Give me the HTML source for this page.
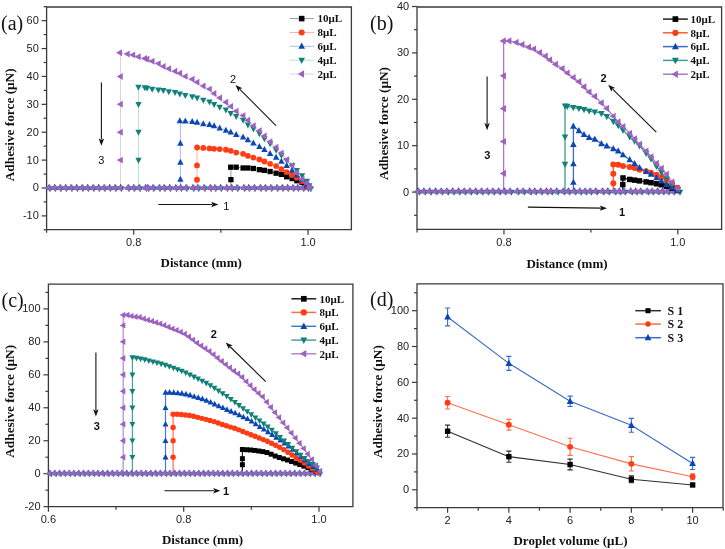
<!DOCTYPE html>
<html><head><meta charset="utf-8"><style>
html,body{margin:0;padding:0;background:#fff;width:725px;height:549px;overflow:hidden}
svg{display:block;filter:blur(0.45px)}
</style></head><body>
<svg width="725" height="549" viewBox="0 0 725 549">
<rect width="725" height="549" fill="#fff"/>
<path d="M46.6 7.0H351.4V229.7H46.6Z" fill="none" stroke="#3a3a3a" stroke-width="1.3"/>
<path d="M41.6 215.89H46.6" stroke="#3a3a3a" stroke-width="1.2"/>
<text x="38.80" y="219.29" font-family="Liberation Sans" font-size="11" font-weight="normal" text-anchor="end" fill="#222" >-10</text>
<path d="M41.6 188.00H46.6" stroke="#3a3a3a" stroke-width="1.2"/>
<text x="38.80" y="191.40" font-family="Liberation Sans" font-size="11" font-weight="normal" text-anchor="end" fill="#222" >0</text>
<path d="M41.6 160.11H46.6" stroke="#3a3a3a" stroke-width="1.2"/>
<text x="38.80" y="163.51" font-family="Liberation Sans" font-size="11" font-weight="normal" text-anchor="end" fill="#222" >10</text>
<path d="M41.6 132.22H46.6" stroke="#3a3a3a" stroke-width="1.2"/>
<text x="38.80" y="135.62" font-family="Liberation Sans" font-size="11" font-weight="normal" text-anchor="end" fill="#222" >20</text>
<path d="M41.6 104.33H46.6" stroke="#3a3a3a" stroke-width="1.2"/>
<text x="38.80" y="107.73" font-family="Liberation Sans" font-size="11" font-weight="normal" text-anchor="end" fill="#222" >30</text>
<path d="M41.6 76.44H46.6" stroke="#3a3a3a" stroke-width="1.2"/>
<text x="38.80" y="79.84" font-family="Liberation Sans" font-size="11" font-weight="normal" text-anchor="end" fill="#222" >40</text>
<path d="M41.6 48.55H46.6" stroke="#3a3a3a" stroke-width="1.2"/>
<text x="38.80" y="51.95" font-family="Liberation Sans" font-size="11" font-weight="normal" text-anchor="end" fill="#222" >50</text>
<path d="M41.6 20.66H46.6" stroke="#3a3a3a" stroke-width="1.2"/>
<text x="38.80" y="24.06" font-family="Liberation Sans" font-size="11" font-weight="normal" text-anchor="end" fill="#222" >60</text>
<path d="M43.6 229.84H46.6" stroke="#3a3a3a" stroke-width="1.2"/>
<path d="M43.6 201.94H46.6" stroke="#3a3a3a" stroke-width="1.2"/>
<path d="M43.6 174.06H46.6" stroke="#3a3a3a" stroke-width="1.2"/>
<path d="M43.6 146.16H46.6" stroke="#3a3a3a" stroke-width="1.2"/>
<path d="M43.6 118.27H46.6" stroke="#3a3a3a" stroke-width="1.2"/>
<path d="M43.6 90.38H46.6" stroke="#3a3a3a" stroke-width="1.2"/>
<path d="M43.6 62.49H46.6" stroke="#3a3a3a" stroke-width="1.2"/>
<path d="M43.6 34.60H46.6" stroke="#3a3a3a" stroke-width="1.2"/>
<path d="M43.6 6.72H46.6" stroke="#3a3a3a" stroke-width="1.2"/>
<path d="M133.75 229.7V234.7" stroke="#3a3a3a" stroke-width="1.2"/>
<text x="133.75" y="246.00" font-family="Liberation Sans" font-size="11" font-weight="normal" text-anchor="middle" fill="#222" >0.8</text>
<path d="M308.05 229.7V234.7" stroke="#3a3a3a" stroke-width="1.2"/>
<text x="308.05" y="246.00" font-family="Liberation Sans" font-size="11" font-weight="normal" text-anchor="middle" fill="#222" >1.0</text>
<path d="M46.60 229.7V232.7" stroke="#3a3a3a" stroke-width="1.2"/>
<path d="M220.90 229.7V232.7" stroke="#3a3a3a" stroke-width="1.2"/>
<path d="M47.10 188.00H307.50" fill="none" stroke="#9a9a9a" stroke-width="1.0"/>
<path d="M230.90 188.00V167.20L236.40 167.20L243.20 168.00L248.00 168.00L253.00 168.40L259.00 169.60L264.20 170.30L270.10 171.50L276.10 173.20L281.40 174.40L286.70 176.80L292.10 178.60L297.40 181.00L302.70 182.70L307.50 186.00" fill="none" stroke="#9a9a9a" stroke-width="1.0" stroke-linejoin="round"/>
<path d="M47.10 188.00H307.50" fill="none" stroke="#ffb4a4" stroke-width="1.0"/>
<path d="M197.00 188.00V147.50L203.40 147.90L209.30 148.40L214.40 148.80L219.90 149.10L225.70 149.70L230.80 150.80L236.40 152.60L243.20 153.80L248.00 155.90L253.00 157.40L259.30 159.40L264.20 161.40L270.10 163.80L276.10 166.10L281.40 169.10L286.70 172.10L292.10 175.00L297.40 178.00L302.10 181.00L307.50 186.00" fill="none" stroke="#ffb4a4" stroke-width="1.0" stroke-linejoin="round"/>
<path d="M47.10 188.00H308.50" fill="none" stroke="#a8bce6" stroke-width="1.0"/>
<path d="M180.40 188.00V120.90L186.00 121.20L192.20 121.70L197.30 122.40L203.40 123.90L209.30 124.60L214.40 126.00L219.90 128.20L225.70 130.20L230.80 132.20L236.40 134.80L243.20 137.20L248.00 139.90L253.20 142.90L259.50 146.60L264.20 149.50L270.10 153.70L276.10 157.30L281.40 161.40L286.70 165.50L292.10 170.30L297.40 175.60L302.70 180.40L308.50 187.00" fill="none" stroke="#a8bce6" stroke-width="1.0" stroke-linejoin="round"/>
<path d="M47.10 188.00H310.00" fill="none" stroke="#bcdcd8" stroke-width="1.0"/>
<path d="M138.50 188.00V87.10L146.00 87.80L152.20 89.10L158.40 89.80L163.30 90.50L168.80 91.60L175.70 92.60L180.50 94.00L185.30 95.30L192.20 96.70L197.80 98.10L203.30 100.20L210.20 102.20L214.10 104.30L219.70 107.10L225.90 109.80L230.70 113.30L236.20 116.40L243.10 120.20L247.20 124.30L252.80 128.40L259.00 133.30L263.80 138.10L269.30 142.90L276.50 150.50L284.40 158.40L290.90 164.40L296.80 170.30L303.30 176.80L308.10 182.70L310.00 187.50" fill="none" stroke="#bcdcd8" stroke-width="1.0" stroke-linejoin="round"/>
<path d="M47.10 188.00H309.50" fill="none" stroke="#e0cdef" stroke-width="1.0"/>
<path d="M120.50 188.00V52.70L127.40 54.00L132.90 54.90L138.40 56.70L144.70 58.40L152.20 61.30L158.40 63.60L163.30 66.40L168.80 68.70L175.00 71.20L179.80 73.30L185.30 76.40L192.20 79.20L197.10 82.20L203.30 86.00L209.50 89.10L214.10 93.50L219.70 97.90L225.90 102.20L230.70 106.40L236.20 111.20L243.10 115.60L247.90 120.20L253.40 125.70L259.60 130.80L264.30 135.90L270.10 141.70L276.10 147.20L281.40 153.10L286.70 159.60L292.10 165.50L296.80 172.70L302.10 179.20L306.90 183.30L309.50 187.50" fill="none" stroke="#e0cdef" stroke-width="1.0" stroke-linejoin="round"/>
<path d="M49.10 183.81L52.25 189.79L45.95 189.79Z" fill="#0b47b4"/><path d="M54.60 183.81L57.75 189.79L51.45 189.79Z" fill="#0b47b4"/><path d="M60.10 183.81L63.25 189.79L56.95 189.79Z" fill="#0b47b4"/><path d="M65.60 183.81L68.75 189.79L62.45 189.79Z" fill="#0b47b4"/><path d="M71.10 183.81L74.25 189.79L67.95 189.79Z" fill="#0b47b4"/><path d="M76.60 183.81L79.75 189.79L73.45 189.79Z" fill="#0b47b4"/><path d="M82.10 183.81L85.25 189.79L78.95 189.79Z" fill="#0b47b4"/><path d="M87.60 183.81L90.75 189.79L84.45 189.79Z" fill="#0b47b4"/><path d="M93.10 183.81L96.25 189.79L89.95 189.79Z" fill="#0b47b4"/><path d="M98.60 183.81L101.75 189.79L95.45 189.79Z" fill="#0b47b4"/><path d="M104.10 183.81L107.25 189.79L100.95 189.79Z" fill="#0b47b4"/><path d="M109.60 183.81L112.75 189.79L106.45 189.79Z" fill="#0b47b4"/><path d="M115.10 183.81L118.25 189.79L111.95 189.79Z" fill="#0b47b4"/><path d="M120.60 183.81L123.75 189.79L117.45 189.79Z" fill="#0b47b4"/><path d="M128.20 183.81L131.35 189.79L125.05 189.79Z" fill="#0b47b4"/><path d="M133.70 183.81L136.85 189.79L130.55 189.79Z" fill="#0b47b4"/><path d="M139.20 183.81L142.35 189.79L136.05 189.79Z" fill="#0b47b4"/><path d="M145.60 183.81L148.75 189.79L142.45 189.79Z" fill="#0b47b4"/><path d="M147.90 183.81L151.05 189.79L144.75 189.79Z" fill="#0b47b4"/><path d="M153.00 183.81L156.15 189.79L149.85 189.79Z" fill="#0b47b4"/><path d="M159.20 183.81L162.35 189.79L156.05 189.79Z" fill="#0b47b4"/><path d="M164.10 183.81L167.25 189.79L160.95 189.79Z" fill="#0b47b4"/><path d="M169.60 183.81L172.75 189.79L166.45 189.79Z" fill="#0b47b4"/><path d="M175.80 183.81L178.95 189.79L172.65 189.79Z" fill="#0b47b4"/><path d="M180.60 183.81L183.75 189.79L177.45 189.79Z" fill="#0b47b4"/><path d="M186.10 183.81L189.25 189.79L182.95 189.79Z" fill="#0b47b4"/><path d="M193.00 183.81L196.15 189.79L189.85 189.79Z" fill="#0b47b4"/><path d="M197.90 183.81L201.05 189.79L194.75 189.79Z" fill="#0b47b4"/><path d="M204.10 183.81L207.25 189.79L200.95 189.79Z" fill="#0b47b4"/><path d="M210.30 183.81L213.45 189.79L207.15 189.79Z" fill="#0b47b4"/><path d="M214.90 183.81L218.05 189.79L211.75 189.79Z" fill="#0b47b4"/><path d="M220.50 183.81L223.65 189.79L217.35 189.79Z" fill="#0b47b4"/><path d="M226.70 183.81L229.85 189.79L223.55 189.79Z" fill="#0b47b4"/><path d="M231.50 183.81L234.65 189.79L228.35 189.79Z" fill="#0b47b4"/><path d="M237.00 183.81L240.15 189.79L233.85 189.79Z" fill="#0b47b4"/><path d="M243.90 183.81L247.05 189.79L240.75 189.79Z" fill="#0b47b4"/><path d="M248.70 183.81L251.85 189.79L245.55 189.79Z" fill="#0b47b4"/><path d="M254.20 183.81L257.35 189.79L251.05 189.79Z" fill="#0b47b4"/><path d="M260.20 183.81L263.35 189.79L257.05 189.79Z" fill="#0b47b4"/><path d="M265.20 183.81L268.35 189.79L262.05 189.79Z" fill="#0b47b4"/><path d="M270.90 183.81L274.05 189.79L267.75 189.79Z" fill="#0b47b4"/><path d="M276.90 183.81L280.05 189.79L273.75 189.79Z" fill="#0b47b4"/><path d="M282.20 183.81L285.35 189.79L279.05 189.79Z" fill="#0b47b4"/><path d="M287.50 183.81L290.65 189.79L284.35 189.79Z" fill="#0b47b4"/><path d="M292.90 183.81L296.05 189.79L289.75 189.79Z" fill="#0b47b4"/><path d="M297.60 183.81L300.75 189.79L294.45 189.79Z" fill="#0b47b4"/><path d="M302.90 183.81L306.05 189.79L299.75 189.79Z" fill="#0b47b4"/><path d="M307.70 183.81L310.85 189.79L304.55 189.79Z" fill="#0b47b4"/>
<path d="M49.90 192.19L53.05 186.21L46.75 186.21Z" fill="#12807a"/><path d="M55.40 192.19L58.55 186.21L52.25 186.21Z" fill="#12807a"/><path d="M60.90 192.19L64.05 186.21L57.75 186.21Z" fill="#12807a"/><path d="M66.40 192.19L69.55 186.21L63.25 186.21Z" fill="#12807a"/><path d="M71.90 192.19L75.05 186.21L68.75 186.21Z" fill="#12807a"/><path d="M77.40 192.19L80.55 186.21L74.25 186.21Z" fill="#12807a"/><path d="M82.90 192.19L86.05 186.21L79.75 186.21Z" fill="#12807a"/><path d="M88.40 192.19L91.55 186.21L85.25 186.21Z" fill="#12807a"/><path d="M93.90 192.19L97.05 186.21L90.75 186.21Z" fill="#12807a"/><path d="M99.40 192.19L102.55 186.21L96.25 186.21Z" fill="#12807a"/><path d="M104.90 192.19L108.05 186.21L101.75 186.21Z" fill="#12807a"/><path d="M110.40 192.19L113.55 186.21L107.25 186.21Z" fill="#12807a"/><path d="M115.90 192.19L119.05 186.21L112.75 186.21Z" fill="#12807a"/><path d="M121.40 192.19L124.55 186.21L118.25 186.21Z" fill="#12807a"/><path d="M129.00 192.19L132.15 186.21L125.85 186.21Z" fill="#12807a"/><path d="M134.50 192.19L137.65 186.21L131.35 186.21Z" fill="#12807a"/><path d="M140.00 192.19L143.15 186.21L136.85 186.21Z" fill="#12807a"/><path d="M146.40 192.19L149.55 186.21L143.25 186.21Z" fill="#12807a"/><path d="M148.70 192.19L151.85 186.21L145.55 186.21Z" fill="#12807a"/><path d="M153.80 192.19L156.95 186.21L150.65 186.21Z" fill="#12807a"/><path d="M160.00 192.19L163.15 186.21L156.85 186.21Z" fill="#12807a"/><path d="M164.90 192.19L168.05 186.21L161.75 186.21Z" fill="#12807a"/><path d="M170.40 192.19L173.55 186.21L167.25 186.21Z" fill="#12807a"/><path d="M176.60 192.19L179.75 186.21L173.45 186.21Z" fill="#12807a"/><path d="M181.40 192.19L184.55 186.21L178.25 186.21Z" fill="#12807a"/><path d="M186.90 192.19L190.05 186.21L183.75 186.21Z" fill="#12807a"/><path d="M193.80 192.19L196.95 186.21L190.65 186.21Z" fill="#12807a"/><path d="M198.70 192.19L201.85 186.21L195.55 186.21Z" fill="#12807a"/><path d="M204.90 192.19L208.05 186.21L201.75 186.21Z" fill="#12807a"/><path d="M211.10 192.19L214.25 186.21L207.95 186.21Z" fill="#12807a"/><path d="M215.70 192.19L218.85 186.21L212.55 186.21Z" fill="#12807a"/><path d="M221.30 192.19L224.45 186.21L218.15 186.21Z" fill="#12807a"/><path d="M227.50 192.19L230.65 186.21L224.35 186.21Z" fill="#12807a"/><path d="M232.30 192.19L235.45 186.21L229.15 186.21Z" fill="#12807a"/><path d="M237.80 192.19L240.95 186.21L234.65 186.21Z" fill="#12807a"/><path d="M244.70 192.19L247.85 186.21L241.55 186.21Z" fill="#12807a"/><path d="M249.50 192.19L252.65 186.21L246.35 186.21Z" fill="#12807a"/><path d="M255.00 192.19L258.15 186.21L251.85 186.21Z" fill="#12807a"/><path d="M261.00 192.19L264.15 186.21L257.85 186.21Z" fill="#12807a"/><path d="M266.00 192.19L269.15 186.21L262.85 186.21Z" fill="#12807a"/><path d="M271.70 192.19L274.85 186.21L268.55 186.21Z" fill="#12807a"/><path d="M277.70 192.19L280.85 186.21L274.55 186.21Z" fill="#12807a"/><path d="M283.00 192.19L286.15 186.21L279.85 186.21Z" fill="#12807a"/><path d="M288.30 192.19L291.45 186.21L285.15 186.21Z" fill="#12807a"/><path d="M293.70 192.19L296.85 186.21L290.55 186.21Z" fill="#12807a"/><path d="M298.40 192.19L301.55 186.21L295.25 186.21Z" fill="#12807a"/><path d="M303.70 192.19L306.85 186.21L300.55 186.21Z" fill="#12807a"/><path d="M308.50 192.19L311.65 186.21L305.35 186.21Z" fill="#12807a"/><path d="M310.90 192.19L314.05 186.21L307.75 186.21Z" fill="#12807a"/>
<path d="M44.59 188.00L50.57 184.53L50.57 191.47Z" fill="#9d62c0"/><path d="M50.09 188.00L56.07 184.53L56.07 191.47Z" fill="#9d62c0"/><path d="M55.59 188.00L61.57 184.53L61.57 191.47Z" fill="#9d62c0"/><path d="M61.09 188.00L67.07 184.53L67.07 191.47Z" fill="#9d62c0"/><path d="M66.59 188.00L72.57 184.53L72.57 191.47Z" fill="#9d62c0"/><path d="M72.09 188.00L78.07 184.53L78.07 191.47Z" fill="#9d62c0"/><path d="M77.59 188.00L83.57 184.53L83.57 191.47Z" fill="#9d62c0"/><path d="M83.09 188.00L89.07 184.53L89.07 191.47Z" fill="#9d62c0"/><path d="M88.59 188.00L94.57 184.53L94.57 191.47Z" fill="#9d62c0"/><path d="M94.09 188.00L100.07 184.53L100.07 191.47Z" fill="#9d62c0"/><path d="M99.59 188.00L105.57 184.53L105.57 191.47Z" fill="#9d62c0"/><path d="M105.09 188.00L111.07 184.53L111.07 191.47Z" fill="#9d62c0"/><path d="M110.59 188.00L116.57 184.53L116.57 191.47Z" fill="#9d62c0"/><path d="M116.09 188.00L122.07 184.53L122.07 191.47Z" fill="#9d62c0"/><path d="M123.69 188.00L129.67 184.53L129.67 191.47Z" fill="#9d62c0"/><path d="M129.19 188.00L135.17 184.53L135.17 191.47Z" fill="#9d62c0"/><path d="M134.69 188.00L140.67 184.53L140.67 191.47Z" fill="#9d62c0"/><path d="M141.09 188.00L147.07 184.53L147.07 191.47Z" fill="#9d62c0"/><path d="M143.39 188.00L149.37 184.53L149.37 191.47Z" fill="#9d62c0"/><path d="M148.49 188.00L154.47 184.53L154.47 191.47Z" fill="#9d62c0"/><path d="M154.69 188.00L160.67 184.53L160.67 191.47Z" fill="#9d62c0"/><path d="M159.59 188.00L165.57 184.53L165.57 191.47Z" fill="#9d62c0"/><path d="M165.09 188.00L171.07 184.53L171.07 191.47Z" fill="#9d62c0"/><path d="M171.29 188.00L177.27 184.53L177.27 191.47Z" fill="#9d62c0"/><path d="M176.09 188.00L182.07 184.53L182.07 191.47Z" fill="#9d62c0"/><path d="M181.59 188.00L187.57 184.53L187.57 191.47Z" fill="#9d62c0"/><path d="M188.49 188.00L194.47 184.53L194.47 191.47Z" fill="#9d62c0"/><path d="M193.39 188.00L199.37 184.53L199.37 191.47Z" fill="#9d62c0"/><path d="M199.59 188.00L205.57 184.53L205.57 191.47Z" fill="#9d62c0"/><path d="M205.79 188.00L211.77 184.53L211.77 191.47Z" fill="#9d62c0"/><path d="M210.39 188.00L216.37 184.53L216.37 191.47Z" fill="#9d62c0"/><path d="M215.99 188.00L221.97 184.53L221.97 191.47Z" fill="#9d62c0"/><path d="M222.19 188.00L228.17 184.53L228.17 191.47Z" fill="#9d62c0"/><path d="M226.99 188.00L232.97 184.53L232.97 191.47Z" fill="#9d62c0"/><path d="M232.49 188.00L238.47 184.53L238.47 191.47Z" fill="#9d62c0"/><path d="M239.39 188.00L245.37 184.53L245.37 191.47Z" fill="#9d62c0"/><path d="M244.19 188.00L250.17 184.53L250.17 191.47Z" fill="#9d62c0"/><path d="M249.69 188.00L255.67 184.53L255.67 191.47Z" fill="#9d62c0"/><path d="M255.69 188.00L261.67 184.53L261.67 191.47Z" fill="#9d62c0"/><path d="M260.69 188.00L266.67 184.53L266.67 191.47Z" fill="#9d62c0"/><path d="M266.39 188.00L272.37 184.53L272.37 191.47Z" fill="#9d62c0"/><path d="M272.39 188.00L278.37 184.53L278.37 191.47Z" fill="#9d62c0"/><path d="M277.69 188.00L283.67 184.53L283.67 191.47Z" fill="#9d62c0"/><path d="M282.99 188.00L288.97 184.53L288.97 191.47Z" fill="#9d62c0"/><path d="M288.39 188.00L294.37 184.53L294.37 191.47Z" fill="#9d62c0"/><path d="M293.09 188.00L299.07 184.53L299.07 191.47Z" fill="#9d62c0"/><path d="M298.39 188.00L304.37 184.53L304.37 191.47Z" fill="#9d62c0"/><path d="M303.19 188.00L309.17 184.53L309.17 191.47Z" fill="#9d62c0"/><path d="M305.59 188.00L311.57 184.53L311.57 191.47Z" fill="#9d62c0"/>
<rect x="228.25" y="176.99" width="5.29" height="5.29" fill="#000000"/><rect x="228.05" y="164.55" width="5.29" height="5.29" fill="#000000"/><rect x="233.55" y="164.55" width="5.29" height="5.29" fill="#000000"/><rect x="240.45" y="165.34" width="5.29" height="5.29" fill="#000000"/><rect x="245.25" y="165.35" width="5.29" height="5.29" fill="#000000"/><rect x="250.75" y="165.83" width="5.29" height="5.29" fill="#000000"/><rect x="256.75" y="167.01" width="5.29" height="5.29" fill="#000000"/><rect x="261.75" y="167.69" width="5.29" height="5.29" fill="#000000"/><rect x="267.45" y="168.85" width="5.29" height="5.29" fill="#000000"/><rect x="273.45" y="170.55" width="5.29" height="5.29" fill="#000000"/><rect x="278.75" y="171.75" width="5.29" height="5.29" fill="#000000"/><rect x="284.05" y="174.15" width="5.29" height="5.29" fill="#000000"/><rect x="289.45" y="175.95" width="5.29" height="5.29" fill="#000000"/><rect x="294.15" y="178.08" width="5.29" height="5.29" fill="#000000"/><rect x="299.45" y="179.86" width="5.29" height="5.29" fill="#000000"/><rect x="304.25" y="182.94" width="5.29" height="5.29" fill="#000000"/>
<circle cx="197.00" cy="165.41" r="2.90" fill="#ff3c14"/><circle cx="197.00" cy="179.63" r="2.90" fill="#ff3c14"/><circle cx="197.10" cy="147.51" r="2.90" fill="#ff3c14"/><circle cx="203.30" cy="147.89" r="2.90" fill="#ff3c14"/><circle cx="209.50" cy="148.42" r="2.90" fill="#ff3c14"/><circle cx="214.10" cy="148.78" r="2.90" fill="#ff3c14"/><circle cx="219.70" cy="149.09" r="2.90" fill="#ff3c14"/><circle cx="225.90" cy="149.74" r="2.90" fill="#ff3c14"/><circle cx="230.70" cy="150.78" r="2.90" fill="#ff3c14"/><circle cx="236.20" cy="152.54" r="2.90" fill="#ff3c14"/><circle cx="243.10" cy="153.78" r="2.90" fill="#ff3c14"/><circle cx="247.90" cy="155.86" r="2.90" fill="#ff3c14"/><circle cx="253.40" cy="157.53" r="2.90" fill="#ff3c14"/><circle cx="259.40" cy="159.44" r="2.90" fill="#ff3c14"/><circle cx="264.40" cy="161.48" r="2.90" fill="#ff3c14"/><circle cx="270.10" cy="163.80" r="2.90" fill="#ff3c14"/><circle cx="276.10" cy="166.10" r="2.90" fill="#ff3c14"/><circle cx="281.40" cy="169.10" r="2.90" fill="#ff3c14"/><circle cx="286.70" cy="172.10" r="2.90" fill="#ff3c14"/><circle cx="292.10" cy="175.00" r="2.90" fill="#ff3c14"/><circle cx="296.80" cy="177.66" r="2.90" fill="#ff3c14"/><circle cx="302.10" cy="181.00" r="2.90" fill="#ff3c14"/><circle cx="306.90" cy="185.44" r="2.90" fill="#ff3c14"/>
<path d="M180.40 139.78L183.55 145.77L177.25 145.77Z" fill="#0b47b4"/><path d="M180.40 158.75L183.55 164.74L177.25 164.74Z" fill="#0b47b4"/><path d="M180.40 175.76L183.55 181.75L177.25 181.75Z" fill="#0b47b4"/><path d="M179.80 117.31L182.95 123.29L176.65 123.29Z" fill="#0b47b4"/><path d="M185.30 117.57L188.45 123.56L182.15 123.56Z" fill="#0b47b4"/><path d="M192.20 118.11L195.35 124.09L189.05 124.09Z" fill="#0b47b4"/><path d="M197.10 118.78L200.25 124.77L193.95 124.77Z" fill="#0b47b4"/><path d="M203.30 120.28L206.45 126.27L200.15 126.27Z" fill="#0b47b4"/><path d="M209.50 121.06L212.65 127.05L206.35 127.05Z" fill="#0b47b4"/><path d="M214.10 122.33L217.25 128.31L210.95 128.31Z" fill="#0b47b4"/><path d="M219.70 124.53L222.85 130.51L216.55 130.51Z" fill="#0b47b4"/><path d="M225.90 126.69L229.05 132.67L222.75 132.67Z" fill="#0b47b4"/><path d="M230.70 128.57L233.85 134.55L227.55 134.55Z" fill="#0b47b4"/><path d="M236.20 131.12L239.35 137.10L233.05 137.10Z" fill="#0b47b4"/><path d="M243.10 133.57L246.25 139.56L239.95 139.56Z" fill="#0b47b4"/><path d="M247.90 136.25L251.05 142.24L244.75 142.24Z" fill="#0b47b4"/><path d="M253.40 139.43L256.55 145.41L250.25 145.41Z" fill="#0b47b4"/><path d="M259.40 142.95L262.55 148.94L256.25 148.94Z" fill="#0b47b4"/><path d="M264.40 146.05L267.55 152.04L261.25 152.04Z" fill="#0b47b4"/><path d="M270.10 150.11L273.25 156.09L266.95 156.09Z" fill="#0b47b4"/><path d="M276.10 153.71L279.25 159.69L272.95 159.69Z" fill="#0b47b4"/><path d="M281.40 157.81L284.55 163.79L278.25 163.79Z" fill="#0b47b4"/><path d="M286.70 161.91L289.85 167.89L283.55 167.89Z" fill="#0b47b4"/><path d="M292.10 166.71L295.25 172.69L288.95 172.69Z" fill="#0b47b4"/><path d="M296.80 171.41L299.95 177.39L293.65 177.39Z" fill="#0b47b4"/><path d="M302.10 176.27L305.25 182.25L298.95 182.25Z" fill="#0b47b4"/><path d="M306.90 181.59L310.05 187.57L303.75 187.57Z" fill="#0b47b4"/>
<path d="M138.50 107.92L141.65 101.94L135.35 101.94Z" fill="#12807a"/><path d="M138.50 135.81L141.65 129.83L135.35 129.83Z" fill="#12807a"/><path d="M138.50 163.70L141.65 157.72L135.35 157.72Z" fill="#12807a"/><path d="M138.40 90.69L141.55 84.71L135.25 84.71Z" fill="#12807a"/><path d="M144.80 91.28L147.95 85.29L141.65 85.29Z" fill="#12807a"/><path d="M147.10 91.62L150.25 85.64L143.95 85.64Z" fill="#12807a"/><path d="M152.20 92.69L155.35 86.71L149.05 86.71Z" fill="#12807a"/><path d="M158.40 93.39L161.55 87.41L155.25 87.41Z" fill="#12807a"/><path d="M163.30 94.09L166.45 88.11L160.15 88.11Z" fill="#12807a"/><path d="M168.80 95.19L171.95 89.21L165.65 89.21Z" fill="#12807a"/><path d="M175.00 96.09L178.15 90.10L171.85 90.10Z" fill="#12807a"/><path d="M179.80 97.39L182.95 91.40L176.65 91.40Z" fill="#12807a"/><path d="M185.30 98.89L188.45 92.91L182.15 92.91Z" fill="#12807a"/><path d="M192.20 100.29L195.35 94.31L189.05 94.31Z" fill="#12807a"/><path d="M197.10 101.52L200.25 95.53L193.95 95.53Z" fill="#12807a"/><path d="M203.30 103.79L206.45 97.81L200.15 97.81Z" fill="#12807a"/><path d="M209.50 105.59L212.65 99.60L206.35 99.60Z" fill="#12807a"/><path d="M214.10 107.89L217.25 101.91L210.95 101.91Z" fill="#12807a"/><path d="M219.70 110.69L222.85 104.71L216.55 104.71Z" fill="#12807a"/><path d="M225.90 113.39L229.05 107.41L222.75 107.41Z" fill="#12807a"/><path d="M230.70 116.89L233.85 110.91L227.55 110.91Z" fill="#12807a"/><path d="M236.20 119.99L239.35 114.01L233.05 114.01Z" fill="#12807a"/><path d="M243.10 123.79L246.25 117.81L239.95 117.81Z" fill="#12807a"/><path d="M247.90 128.40L251.05 122.42L244.75 122.42Z" fill="#12807a"/><path d="M253.40 132.47L256.55 126.48L250.25 126.48Z" fill="#12807a"/><path d="M259.40 137.29L262.55 131.31L256.25 131.31Z" fill="#12807a"/><path d="M264.40 142.21L267.55 136.23L261.25 136.23Z" fill="#12807a"/><path d="M270.10 147.34L273.25 141.35L266.95 141.35Z" fill="#12807a"/><path d="M276.10 153.67L279.25 147.68L272.95 147.68Z" fill="#12807a"/><path d="M281.40 158.99L284.55 153.01L278.25 153.01Z" fill="#12807a"/><path d="M286.70 164.11L289.85 158.13L283.55 158.13Z" fill="#12807a"/><path d="M292.10 169.19L295.25 163.21L288.95 163.21Z" fill="#12807a"/><path d="M296.80 173.89L299.95 167.91L293.65 167.91Z" fill="#12807a"/><path d="M302.10 179.19L305.25 173.21L298.95 173.21Z" fill="#12807a"/><path d="M306.90 184.82L310.05 178.83L303.75 178.83Z" fill="#12807a"/><path d="M309.30 189.32L312.45 183.34L306.15 183.34Z" fill="#12807a"/>
<path d="M116.79 76.44L122.77 72.97L122.77 79.91Z" fill="#9d62c0"/><path d="M116.79 104.33L122.77 100.86L122.77 107.80Z" fill="#9d62c0"/><path d="M116.79 132.22L122.77 128.75L122.77 135.69Z" fill="#9d62c0"/><path d="M116.79 160.11L122.77 156.65L122.77 163.58Z" fill="#9d62c0"/><path d="M116.09 52.70L122.07 49.23L122.07 56.17Z" fill="#9d62c0"/><path d="M123.69 54.00L129.67 50.53L129.67 57.47Z" fill="#9d62c0"/><path d="M129.19 54.90L135.17 51.43L135.17 58.37Z" fill="#9d62c0"/><path d="M134.69 56.70L140.67 53.23L140.67 60.17Z" fill="#9d62c0"/><path d="M141.09 58.44L147.07 54.97L147.07 61.90Z" fill="#9d62c0"/><path d="M143.39 59.33L149.37 55.86L149.37 62.79Z" fill="#9d62c0"/><path d="M148.49 61.30L154.47 57.83L154.47 64.77Z" fill="#9d62c0"/><path d="M154.69 63.60L160.67 60.13L160.67 67.06Z" fill="#9d62c0"/><path d="M159.59 66.40L165.57 62.94L165.57 69.87Z" fill="#9d62c0"/><path d="M165.09 68.70L171.07 65.23L171.07 72.17Z" fill="#9d62c0"/><path d="M171.29 71.20L177.27 67.73L177.27 74.67Z" fill="#9d62c0"/><path d="M176.09 73.30L182.07 69.83L182.07 76.77Z" fill="#9d62c0"/><path d="M181.59 76.40L187.57 72.94L187.57 79.87Z" fill="#9d62c0"/><path d="M188.49 79.20L194.47 75.73L194.47 82.67Z" fill="#9d62c0"/><path d="M193.39 82.20L199.37 78.73L199.37 85.67Z" fill="#9d62c0"/><path d="M199.59 86.00L205.57 82.53L205.57 89.47Z" fill="#9d62c0"/><path d="M205.79 89.10L211.77 85.63L211.77 92.56Z" fill="#9d62c0"/><path d="M210.39 93.50L216.37 90.03L216.37 96.97Z" fill="#9d62c0"/><path d="M215.99 97.90L221.97 94.44L221.97 101.37Z" fill="#9d62c0"/><path d="M222.19 102.20L228.17 98.73L228.17 105.67Z" fill="#9d62c0"/><path d="M226.99 106.40L232.97 102.94L232.97 109.87Z" fill="#9d62c0"/><path d="M232.49 111.20L238.47 107.73L238.47 114.67Z" fill="#9d62c0"/><path d="M239.39 115.60L245.37 112.13L245.37 119.06Z" fill="#9d62c0"/><path d="M244.19 120.20L250.17 116.73L250.17 123.67Z" fill="#9d62c0"/><path d="M249.69 125.70L255.67 122.23L255.67 129.16Z" fill="#9d62c0"/><path d="M255.69 130.64L261.67 127.17L261.67 134.10Z" fill="#9d62c0"/><path d="M260.69 136.00L266.67 132.53L266.67 139.46Z" fill="#9d62c0"/><path d="M266.39 141.70L272.37 138.23L272.37 145.16Z" fill="#9d62c0"/><path d="M272.39 147.20L278.37 143.73L278.37 150.66Z" fill="#9d62c0"/><path d="M277.69 153.10L283.67 149.63L283.67 156.56Z" fill="#9d62c0"/><path d="M282.99 159.60L288.97 156.13L288.97 163.06Z" fill="#9d62c0"/><path d="M288.39 165.50L294.37 162.03L294.37 168.97Z" fill="#9d62c0"/><path d="M293.09 172.70L299.07 169.23L299.07 176.16Z" fill="#9d62c0"/><path d="M298.39 179.20L304.37 175.73L304.37 182.66Z" fill="#9d62c0"/><path d="M303.19 183.30L309.17 179.84L309.17 186.77Z" fill="#9d62c0"/><path d="M305.59 187.18L311.57 183.71L311.57 190.64Z" fill="#9d62c0"/>
<path d="M289.6 18.6H313.9" stroke="#9a9a9a" stroke-width="1.0"/>
<rect x="298.93" y="15.83" width="5.54" height="5.54" fill="#000000"/>
<text x="317.60" y="22.40" font-family="Liberation Serif" font-size="11" font-weight="bold" text-anchor="start" fill="#111" >10&#956;L</text>
<path d="M289.6 32.5H313.9" stroke="#ffb4a4" stroke-width="1.0"/>
<circle cx="301.70" cy="32.50" r="3.04" fill="#ff3c14"/>
<text x="317.60" y="36.30" font-family="Liberation Serif" font-size="11" font-weight="bold" text-anchor="start" fill="#111" >8&#956;L</text>
<path d="M289.6 46.3H313.9" stroke="#a8bce6" stroke-width="1.0"/>
<path d="M301.70 42.54L305.00 48.81L298.40 48.81Z" fill="#0b47b4"/>
<text x="317.60" y="50.10" font-family="Liberation Serif" font-size="11" font-weight="bold" text-anchor="start" fill="#111" >6&#956;L</text>
<path d="M289.6 60.2H313.9" stroke="#bcdcd8" stroke-width="1.0"/>
<path d="M301.70 63.96L305.00 57.69L298.40 57.69Z" fill="#12807a"/>
<text x="317.60" y="64.00" font-family="Liberation Serif" font-size="11" font-weight="bold" text-anchor="start" fill="#111" >4&#956;L</text>
<path d="M289.6 74.0H313.9" stroke="#e0cdef" stroke-width="1.0"/>
<path d="M297.81 74.00L304.08 70.37L304.08 77.63Z" fill="#9d62c0"/>
<text x="317.60" y="77.80" font-family="Liberation Serif" font-size="11" font-weight="bold" text-anchor="start" fill="#111" >2&#956;L</text>
<path d="M101.40 82.40L101.40 139.60" stroke="#111" stroke-width="1.1"/>
<path d="M101.40 145.80L98.70 138.60L101.40 140.10L104.10 138.60Z" fill="#111"/>
<text x="101.40" y="164.00" font-family="Liberation Sans" font-size="11" font-weight="normal" text-anchor="middle" fill="#111" >3</text>
<path d="M158.40 204.50L212.20 204.50" stroke="#111" stroke-width="1.1"/>
<path d="M218.40 204.50L211.20 207.20L212.70 204.50L211.20 201.80Z" fill="#111"/>
<text x="226.40" y="209.60" font-family="Liberation Sans" font-size="11" font-weight="normal" text-anchor="middle" fill="#111" >1</text>
<path d="M276.00 125.60L239.88 89.39" stroke="#111" stroke-width="1.1"/>
<path d="M235.50 85.00L242.50 88.19L239.53 89.04L238.67 92.00Z" fill="#111"/>
<text x="233.00" y="83.40" font-family="Liberation Sans" font-size="11" font-weight="normal" text-anchor="middle" fill="#111" >2</text>
<text x="1.00" y="29.90" font-family="Liberation Serif" font-size="20" font-weight="normal" text-anchor="start" fill="#111" >(a)</text>
<text x="201.20" y="267.40" font-family="Liberation Serif" font-size="13" font-weight="bold" text-anchor="middle" fill="#111" >Distance (mm)</text>
<text x="0.00" y="0.00" font-family="Liberation Serif" font-size="13.3" font-weight="bold" text-anchor="middle" fill="#111" transform="translate(14.2 124.8) rotate(-90)">Adhesive force (&#956;N)</text>
<path d="M417.0 7.0H721.6V229.4H417.0Z" fill="none" stroke="#3a3a3a" stroke-width="1.3"/>
<path d="M412.0 192.10H417.0" stroke="#3a3a3a" stroke-width="1.2"/>
<text x="409.20" y="195.50" font-family="Liberation Sans" font-size="11" font-weight="normal" text-anchor="end" fill="#222" >0</text>
<path d="M412.0 145.70H417.0" stroke="#3a3a3a" stroke-width="1.2"/>
<text x="409.20" y="149.10" font-family="Liberation Sans" font-size="11" font-weight="normal" text-anchor="end" fill="#222" >10</text>
<path d="M412.0 99.30H417.0" stroke="#3a3a3a" stroke-width="1.2"/>
<text x="409.20" y="102.70" font-family="Liberation Sans" font-size="11" font-weight="normal" text-anchor="end" fill="#222" >20</text>
<path d="M412.0 52.90H417.0" stroke="#3a3a3a" stroke-width="1.2"/>
<text x="409.20" y="56.30" font-family="Liberation Sans" font-size="11" font-weight="normal" text-anchor="end" fill="#222" >30</text>
<path d="M412.0 6.50H417.0" stroke="#3a3a3a" stroke-width="1.2"/>
<text x="409.20" y="9.90" font-family="Liberation Sans" font-size="11" font-weight="normal" text-anchor="end" fill="#222" >40</text>
<path d="M414.0 215.30H417.0" stroke="#3a3a3a" stroke-width="1.2"/>
<path d="M414.0 168.90H417.0" stroke="#3a3a3a" stroke-width="1.2"/>
<path d="M414.0 122.50H417.0" stroke="#3a3a3a" stroke-width="1.2"/>
<path d="M414.0 76.10H417.0" stroke="#3a3a3a" stroke-width="1.2"/>
<path d="M414.0 29.70H417.0" stroke="#3a3a3a" stroke-width="1.2"/>
<path d="M503.95 229.4V234.4" stroke="#3a3a3a" stroke-width="1.2"/>
<text x="503.95" y="245.70" font-family="Liberation Sans" font-size="11" font-weight="normal" text-anchor="middle" fill="#222" >0.8</text>
<path d="M677.85 229.4V234.4" stroke="#3a3a3a" stroke-width="1.2"/>
<text x="677.85" y="245.70" font-family="Liberation Sans" font-size="11" font-weight="normal" text-anchor="middle" fill="#222" >1.0</text>
<path d="M417.00 229.4V232.4" stroke="#3a3a3a" stroke-width="1.2"/>
<path d="M590.90 229.4V232.4" stroke="#3a3a3a" stroke-width="1.2"/>
<path d="M417.50 192.10H678.00" fill="none" stroke="#202020" stroke-width="1.3"/>
<path d="M622.80 192.10V177.90L628.70 179.30L635.10 180.20L639.60 180.90L645.00 181.70L650.50 182.60L656.00 183.70L661.40 184.80L665.30 185.90L669.10 187.00L673.50 188.50L678.00 190.00" fill="none" stroke="#202020" stroke-width="1.3" stroke-linejoin="round"/>
<path d="M417.50 192.10H679.00" fill="none" stroke="#ff5a3c" stroke-width="1.3"/>
<path d="M613.30 192.10V164.40L617.80 164.60L623.30 166.00L629.70 167.00L634.20 167.90L639.70 169.70L644.00 170.60L649.50 172.20L654.90 173.90L659.20 176.10L663.60 178.30L668.00 181.00L672.30 183.70L677.80 188.10L679.00 190.00" fill="none" stroke="#ff5a3c" stroke-width="1.3" stroke-linejoin="round"/>
<path d="M417.50 192.10H678.00" fill="none" stroke="#3a6cc8" stroke-width="1.3"/>
<path d="M573.40 192.10V126.30L578.70 130.50L583.20 134.20L589.60 137.80L596.00 139.60L600.50 143.30L606.90 146.00L613.30 148.70L617.80 150.60L623.30 155.10L629.70 159.70L634.20 163.30L639.70 167.90L645.00 170.90L650.50 173.90L657.10 178.30L662.00 181.50L666.90 184.80L673.40 188.10L678.00 190.00" fill="none" stroke="#3a6cc8" stroke-width="1.3" stroke-linejoin="round"/>
<path d="M417.50 192.10H678.00" fill="none" stroke="#3c9c94" stroke-width="1.3"/>
<path d="M565.00 192.10V105.90L570.50 106.80L575.00 107.80L581.40 108.70L587.80 110.50L592.30 111.80L597.80 112.30L603.30 114.10L608.70 117.80L614.20 122.30L619.70 126.90L624.20 131.40L629.70 136.90L635.10 141.40L639.70 146.00L644.30 151.50L648.30 155.30L653.20 161.80L658.10 168.40L662.50 173.80L666.90 179.30L674.50 187.00L678.00 190.00" fill="none" stroke="#3c9c94" stroke-width="1.3" stroke-linejoin="round"/>
<path d="M417.50 192.10H678.90" fill="none" stroke="#a878cc" stroke-width="1.3"/>
<path d="M503.60 192.10V40.90L509.00 40.90L516.20 42.40L522.10 44.60L528.60 47.20L533.70 49.00L539.60 52.60L545.40 56.20L549.80 59.90L555.60 64.30L562.20 68.60L567.30 73.00L573.10 77.40L578.90 81.70L584.00 86.90L589.10 92.00L594.80 96.40L601.40 102.90L606.80 108.40L611.80 114.40L616.70 120.40L623.20 126.90L629.80 133.50L634.70 139.00L639.60 144.40L646.10 151.00L651.60 157.50L657.10 164.10L662.50 169.50L668.00 176.10L672.30 182.60L678.90 190.00" fill="none" stroke="#a878cc" stroke-width="1.3" stroke-linejoin="round"/>
<path d="M418.15 187.25L421.35 193.33L414.95 193.33Z" fill="#0b47b4"/><path d="M423.90 187.25L427.10 193.33L420.70 193.33Z" fill="#0b47b4"/><path d="M429.65 187.25L432.85 193.33L426.45 193.33Z" fill="#0b47b4"/><path d="M435.40 187.25L438.60 193.33L432.20 193.33Z" fill="#0b47b4"/><path d="M441.15 187.25L444.35 193.33L437.95 193.33Z" fill="#0b47b4"/><path d="M446.90 187.25L450.10 193.33L443.70 193.33Z" fill="#0b47b4"/><path d="M452.65 187.25L455.85 193.33L449.45 193.33Z" fill="#0b47b4"/><path d="M458.40 187.25L461.60 193.33L455.20 193.33Z" fill="#0b47b4"/><path d="M464.15 187.25L467.35 193.33L460.95 193.33Z" fill="#0b47b4"/><path d="M469.90 187.25L473.10 193.33L466.70 193.33Z" fill="#0b47b4"/><path d="M475.65 187.25L478.85 193.33L472.45 193.33Z" fill="#0b47b4"/><path d="M481.40 187.25L484.60 193.33L478.20 193.33Z" fill="#0b47b4"/><path d="M487.15 187.25L490.35 193.33L483.95 193.33Z" fill="#0b47b4"/><path d="M492.90 187.25L496.10 193.33L489.70 193.33Z" fill="#0b47b4"/><path d="M498.65 187.25L501.85 193.33L495.45 193.33Z" fill="#0b47b4"/><path d="M504.40 187.25L507.60 193.33L501.20 193.33Z" fill="#0b47b4"/><path d="M510.00 187.25L513.20 193.33L506.80 193.33Z" fill="#0b47b4"/><path d="M517.20 187.25L520.40 193.33L514.00 193.33Z" fill="#0b47b4"/><path d="M523.10 187.25L526.30 193.33L519.90 193.33Z" fill="#0b47b4"/><path d="M529.60 187.25L532.80 193.33L526.40 193.33Z" fill="#0b47b4"/><path d="M534.70 187.25L537.90 193.33L531.50 193.33Z" fill="#0b47b4"/><path d="M540.60 187.25L543.80 193.33L537.40 193.33Z" fill="#0b47b4"/><path d="M546.40 187.25L549.60 193.33L543.20 193.33Z" fill="#0b47b4"/><path d="M550.80 187.25L554.00 193.33L547.60 193.33Z" fill="#0b47b4"/><path d="M556.60 187.25L559.80 193.33L553.40 193.33Z" fill="#0b47b4"/><path d="M563.20 187.25L566.40 193.33L560.00 193.33Z" fill="#0b47b4"/><path d="M568.30 187.25L571.50 193.33L565.10 193.33Z" fill="#0b47b4"/><path d="M574.30 187.25L577.50 193.33L571.10 193.33Z" fill="#0b47b4"/><path d="M579.90 187.25L583.10 193.33L576.70 193.33Z" fill="#0b47b4"/><path d="M585.00 187.25L588.20 193.33L581.80 193.33Z" fill="#0b47b4"/><path d="M590.10 187.25L593.30 193.33L586.90 193.33Z" fill="#0b47b4"/><path d="M595.80 187.25L599.00 193.33L592.60 193.33Z" fill="#0b47b4"/><path d="M602.40 187.25L605.60 193.33L599.20 193.33Z" fill="#0b47b4"/><path d="M607.80 187.25L611.00 193.33L604.60 193.33Z" fill="#0b47b4"/><path d="M614.30 187.25L617.50 193.33L611.10 193.33Z" fill="#0b47b4"/><path d="M619.20 187.25L622.40 193.33L616.00 193.33Z" fill="#0b47b4"/><path d="M624.00 187.25L627.20 193.33L620.80 193.33Z" fill="#0b47b4"/><path d="M630.70 187.25L633.90 193.33L627.50 193.33Z" fill="#0b47b4"/><path d="M635.60 187.25L638.80 193.33L632.40 193.33Z" fill="#0b47b4"/><path d="M640.50 187.25L643.70 193.33L637.30 193.33Z" fill="#0b47b4"/><path d="M647.10 187.25L650.30 193.33L643.90 193.33Z" fill="#0b47b4"/><path d="M652.00 187.25L655.20 193.33L648.80 193.33Z" fill="#0b47b4"/><path d="M657.50 187.25L660.70 193.33L654.30 193.33Z" fill="#0b47b4"/><path d="M662.40 187.25L665.60 193.33L659.20 193.33Z" fill="#0b47b4"/><path d="M667.50 187.25L670.70 193.33L664.30 193.33Z" fill="#0b47b4"/><path d="M673.00 187.25L676.20 193.33L669.80 193.33Z" fill="#0b47b4"/><path d="M678.50 187.25L681.70 193.33L675.30 193.33Z" fill="#0b47b4"/>
<path d="M419.65 195.75L422.85 189.67L416.45 189.67Z" fill="#12807a"/><path d="M425.40 195.75L428.60 189.67L422.20 189.67Z" fill="#12807a"/><path d="M431.15 195.75L434.35 189.67L427.95 189.67Z" fill="#12807a"/><path d="M436.90 195.75L440.10 189.67L433.70 189.67Z" fill="#12807a"/><path d="M442.65 195.75L445.85 189.67L439.45 189.67Z" fill="#12807a"/><path d="M448.40 195.75L451.60 189.67L445.20 189.67Z" fill="#12807a"/><path d="M454.15 195.75L457.35 189.67L450.95 189.67Z" fill="#12807a"/><path d="M459.90 195.75L463.10 189.67L456.70 189.67Z" fill="#12807a"/><path d="M465.65 195.75L468.85 189.67L462.45 189.67Z" fill="#12807a"/><path d="M471.40 195.75L474.60 189.67L468.20 189.67Z" fill="#12807a"/><path d="M477.15 195.75L480.35 189.67L473.95 189.67Z" fill="#12807a"/><path d="M482.90 195.75L486.10 189.67L479.70 189.67Z" fill="#12807a"/><path d="M488.65 195.75L491.85 189.67L485.45 189.67Z" fill="#12807a"/><path d="M494.40 195.75L497.60 189.67L491.20 189.67Z" fill="#12807a"/><path d="M500.15 195.75L503.35 189.67L496.95 189.67Z" fill="#12807a"/><path d="M505.90 195.75L509.10 189.67L502.70 189.67Z" fill="#12807a"/><path d="M511.50 195.75L514.70 189.67L508.30 189.67Z" fill="#12807a"/><path d="M518.70 195.75L521.90 189.67L515.50 189.67Z" fill="#12807a"/><path d="M524.60 195.75L527.80 189.67L521.40 189.67Z" fill="#12807a"/><path d="M531.10 195.75L534.30 189.67L527.90 189.67Z" fill="#12807a"/><path d="M536.20 195.75L539.40 189.67L533.00 189.67Z" fill="#12807a"/><path d="M542.10 195.75L545.30 189.67L538.90 189.67Z" fill="#12807a"/><path d="M547.90 195.75L551.10 189.67L544.70 189.67Z" fill="#12807a"/><path d="M552.30 195.75L555.50 189.67L549.10 189.67Z" fill="#12807a"/><path d="M558.10 195.75L561.30 189.67L554.90 189.67Z" fill="#12807a"/><path d="M564.70 195.75L567.90 189.67L561.50 189.67Z" fill="#12807a"/><path d="M569.80 195.75L573.00 189.67L566.60 189.67Z" fill="#12807a"/><path d="M575.80 195.75L579.00 189.67L572.60 189.67Z" fill="#12807a"/><path d="M581.40 195.75L584.60 189.67L578.20 189.67Z" fill="#12807a"/><path d="M586.50 195.75L589.70 189.67L583.30 189.67Z" fill="#12807a"/><path d="M591.60 195.75L594.80 189.67L588.40 189.67Z" fill="#12807a"/><path d="M597.30 195.75L600.50 189.67L594.10 189.67Z" fill="#12807a"/><path d="M603.90 195.75L607.10 189.67L600.70 189.67Z" fill="#12807a"/><path d="M609.30 195.75L612.50 189.67L606.10 189.67Z" fill="#12807a"/><path d="M615.80 195.75L619.00 189.67L612.60 189.67Z" fill="#12807a"/><path d="M620.70 195.75L623.90 189.67L617.50 189.67Z" fill="#12807a"/><path d="M625.50 195.75L628.70 189.67L622.30 189.67Z" fill="#12807a"/><path d="M632.20 195.75L635.40 189.67L629.00 189.67Z" fill="#12807a"/><path d="M637.10 195.75L640.30 189.67L633.90 189.67Z" fill="#12807a"/><path d="M642.00 195.75L645.20 189.67L638.80 189.67Z" fill="#12807a"/><path d="M648.60 195.75L651.80 189.67L645.40 189.67Z" fill="#12807a"/><path d="M653.50 195.75L656.70 189.67L650.30 189.67Z" fill="#12807a"/><path d="M659.00 195.75L662.20 189.67L655.80 189.67Z" fill="#12807a"/><path d="M663.90 195.75L667.10 189.67L660.70 189.67Z" fill="#12807a"/><path d="M669.00 195.75L672.20 189.67L665.80 189.67Z" fill="#12807a"/><path d="M674.50 195.75L677.70 189.67L671.30 189.67Z" fill="#12807a"/><path d="M680.00 195.75L683.20 189.67L676.80 189.67Z" fill="#12807a"/>
<path d="M413.38 191.50L419.46 187.98L419.46 195.02Z" fill="#9d62c0"/><path d="M419.13 191.50L425.21 187.98L425.21 195.02Z" fill="#9d62c0"/><path d="M424.88 191.50L430.96 187.98L430.96 195.02Z" fill="#9d62c0"/><path d="M430.63 191.50L436.71 187.98L436.71 195.02Z" fill="#9d62c0"/><path d="M436.38 191.50L442.46 187.98L442.46 195.02Z" fill="#9d62c0"/><path d="M442.13 191.50L448.21 187.98L448.21 195.02Z" fill="#9d62c0"/><path d="M447.88 191.50L453.96 187.98L453.96 195.02Z" fill="#9d62c0"/><path d="M453.63 191.50L459.71 187.98L459.71 195.02Z" fill="#9d62c0"/><path d="M459.38 191.50L465.46 187.98L465.46 195.02Z" fill="#9d62c0"/><path d="M465.13 191.50L471.21 187.98L471.21 195.02Z" fill="#9d62c0"/><path d="M470.88 191.50L476.96 187.98L476.96 195.02Z" fill="#9d62c0"/><path d="M476.63 191.50L482.71 187.98L482.71 195.02Z" fill="#9d62c0"/><path d="M482.38 191.50L488.46 187.98L488.46 195.02Z" fill="#9d62c0"/><path d="M488.13 191.50L494.21 187.98L494.21 195.02Z" fill="#9d62c0"/><path d="M493.88 191.50L499.96 187.98L499.96 195.02Z" fill="#9d62c0"/><path d="M499.63 191.50L505.71 187.98L505.71 195.02Z" fill="#9d62c0"/><path d="M505.23 191.50L511.31 187.98L511.31 195.02Z" fill="#9d62c0"/><path d="M512.43 191.50L518.51 187.98L518.51 195.02Z" fill="#9d62c0"/><path d="M518.33 191.50L524.41 187.98L524.41 195.02Z" fill="#9d62c0"/><path d="M524.83 191.50L530.91 187.98L530.91 195.02Z" fill="#9d62c0"/><path d="M529.93 191.50L536.01 187.98L536.01 195.02Z" fill="#9d62c0"/><path d="M535.83 191.50L541.91 187.98L541.91 195.02Z" fill="#9d62c0"/><path d="M541.63 191.50L547.71 187.98L547.71 195.02Z" fill="#9d62c0"/><path d="M546.03 191.50L552.11 187.98L552.11 195.02Z" fill="#9d62c0"/><path d="M551.83 191.50L557.91 187.98L557.91 195.02Z" fill="#9d62c0"/><path d="M558.43 191.50L564.51 187.98L564.51 195.02Z" fill="#9d62c0"/><path d="M563.53 191.50L569.61 187.98L569.61 195.02Z" fill="#9d62c0"/><path d="M569.53 191.50L575.61 187.98L575.61 195.02Z" fill="#9d62c0"/><path d="M575.13 191.50L581.21 187.98L581.21 195.02Z" fill="#9d62c0"/><path d="M580.23 191.50L586.31 187.98L586.31 195.02Z" fill="#9d62c0"/><path d="M585.33 191.50L591.41 187.98L591.41 195.02Z" fill="#9d62c0"/><path d="M591.03 191.50L597.11 187.98L597.11 195.02Z" fill="#9d62c0"/><path d="M597.63 191.50L603.71 187.98L603.71 195.02Z" fill="#9d62c0"/><path d="M603.03 191.50L609.11 187.98L609.11 195.02Z" fill="#9d62c0"/><path d="M609.53 191.50L615.61 187.98L615.61 195.02Z" fill="#9d62c0"/><path d="M614.43 191.50L620.51 187.98L620.51 195.02Z" fill="#9d62c0"/><path d="M619.23 191.50L625.31 187.98L625.31 195.02Z" fill="#9d62c0"/><path d="M625.93 191.50L632.01 187.98L632.01 195.02Z" fill="#9d62c0"/><path d="M630.83 191.50L636.91 187.98L636.91 195.02Z" fill="#9d62c0"/><path d="M635.73 191.50L641.81 187.98L641.81 195.02Z" fill="#9d62c0"/><path d="M642.33 191.50L648.41 187.98L648.41 195.02Z" fill="#9d62c0"/><path d="M647.23 191.50L653.31 187.98L653.31 195.02Z" fill="#9d62c0"/><path d="M652.73 191.50L658.81 187.98L658.81 195.02Z" fill="#9d62c0"/><path d="M657.63 191.50L663.71 187.98L663.71 195.02Z" fill="#9d62c0"/><path d="M662.73 191.50L668.81 187.98L668.81 195.02Z" fill="#9d62c0"/><path d="M668.23 191.50L674.31 187.98L674.31 195.02Z" fill="#9d62c0"/><path d="M673.73 191.50L679.81 187.98L679.81 195.02Z" fill="#9d62c0"/>
<rect x="620.07" y="181.87" width="5.46" height="5.46" fill="#000000"/><rect x="620.27" y="175.22" width="5.46" height="5.46" fill="#000000"/><rect x="626.97" y="176.71" width="5.46" height="5.46" fill="#000000"/><rect x="631.87" y="177.40" width="5.46" height="5.46" fill="#000000"/><rect x="636.77" y="178.15" width="5.46" height="5.46" fill="#000000"/><rect x="643.37" y="179.15" width="5.46" height="5.46" fill="#000000"/><rect x="648.27" y="179.97" width="5.46" height="5.46" fill="#000000"/><rect x="653.77" y="181.07" width="5.46" height="5.46" fill="#000000"/><rect x="658.67" y="182.07" width="5.46" height="5.46" fill="#000000"/><rect x="663.77" y="183.52" width="5.46" height="5.46" fill="#000000"/><rect x="669.27" y="185.26" width="5.46" height="5.46" fill="#000000"/><rect x="674.77" y="187.10" width="5.46" height="5.46" fill="#000000"/>
<circle cx="613.30" cy="173.70" r="2.99" fill="#ff3c14"/><circle cx="613.30" cy="183.30" r="2.99" fill="#ff3c14"/><circle cx="613.30" cy="164.40" r="2.99" fill="#ff3c14"/><circle cx="618.20" cy="164.70" r="2.99" fill="#ff3c14"/><circle cx="623.00" cy="165.92" r="2.99" fill="#ff3c14"/><circle cx="629.70" cy="167.00" r="2.99" fill="#ff3c14"/><circle cx="634.60" cy="168.03" r="2.99" fill="#ff3c14"/><circle cx="639.50" cy="169.63" r="2.99" fill="#ff3c14"/><circle cx="646.10" cy="171.21" r="2.99" fill="#ff3c14"/><circle cx="651.00" cy="172.67" r="2.99" fill="#ff3c14"/><circle cx="656.50" cy="174.72" r="2.99" fill="#ff3c14"/><circle cx="661.40" cy="177.20" r="2.99" fill="#ff3c14"/><circle cx="666.50" cy="180.08" r="2.99" fill="#ff3c14"/><circle cx="672.00" cy="183.51" r="2.99" fill="#ff3c14"/><circle cx="677.50" cy="187.86" r="2.99" fill="#ff3c14"/>
<path d="M573.40 140.79L576.65 146.97L570.15 146.97Z" fill="#0b47b4"/><path d="M573.40 160.19L576.65 166.37L570.15 166.37Z" fill="#0b47b4"/><path d="M573.40 178.69L576.65 184.87L570.15 184.87Z" fill="#0b47b4"/><path d="M573.30 122.59L576.55 128.77L570.05 128.77Z" fill="#0b47b4"/><path d="M578.90 126.96L582.15 133.13L575.65 133.13Z" fill="#0b47b4"/><path d="M584.00 130.94L587.25 137.12L580.75 137.12Z" fill="#0b47b4"/><path d="M589.10 133.81L592.35 139.99L585.85 139.99Z" fill="#0b47b4"/><path d="M594.80 135.56L598.05 141.73L591.55 141.73Z" fill="#0b47b4"/><path d="M601.40 139.97L604.65 146.15L598.15 146.15Z" fill="#0b47b4"/><path d="M606.80 142.25L610.05 148.43L603.55 148.43Z" fill="#0b47b4"/><path d="M613.30 144.99L616.55 151.17L610.05 151.17Z" fill="#0b47b4"/><path d="M618.20 147.22L621.45 153.40L614.95 153.40Z" fill="#0b47b4"/><path d="M623.00 151.15L626.25 157.32L619.75 157.32Z" fill="#0b47b4"/><path d="M629.70 155.99L632.95 162.17L626.45 162.17Z" fill="#0b47b4"/><path d="M634.60 159.93L637.85 166.10L631.35 166.10Z" fill="#0b47b4"/><path d="M639.50 164.03L642.75 170.20L636.25 170.20Z" fill="#0b47b4"/><path d="M646.10 167.80L649.35 173.97L642.85 173.97Z" fill="#0b47b4"/><path d="M651.00 170.53L654.25 176.70L647.75 176.70Z" fill="#0b47b4"/><path d="M656.50 174.19L659.75 180.37L653.25 180.37Z" fill="#0b47b4"/><path d="M661.40 177.40L664.65 183.58L658.15 183.58Z" fill="#0b47b4"/><path d="M666.50 180.83L669.75 187.00L663.25 187.00Z" fill="#0b47b4"/><path d="M672.00 183.68L675.25 189.86L668.75 189.86Z" fill="#0b47b4"/><path d="M677.50 186.09L680.75 192.26L674.25 192.26Z" fill="#0b47b4"/>
<path d="M565.00 140.61L568.25 134.43L561.75 134.43Z" fill="#12807a"/><path d="M565.00 167.91L568.25 161.73L561.75 161.73Z" fill="#12807a"/><path d="M565.00 109.61L568.25 103.43L561.75 103.43Z" fill="#12807a"/><path d="M567.30 109.98L570.55 103.81L564.05 103.81Z" fill="#12807a"/><path d="M573.30 111.13L576.55 104.95L570.05 104.95Z" fill="#12807a"/><path d="M578.90 112.05L582.15 105.88L575.65 105.88Z" fill="#12807a"/><path d="M584.00 113.14L587.25 106.96L580.75 106.96Z" fill="#12807a"/><path d="M589.10 114.58L592.35 108.41L585.85 108.41Z" fill="#12807a"/><path d="M594.80 115.73L598.05 109.56L591.55 109.56Z" fill="#12807a"/><path d="M601.40 117.18L604.65 111.01L598.15 111.01Z" fill="#12807a"/><path d="M606.80 120.20L610.05 114.03L603.55 114.03Z" fill="#12807a"/><path d="M613.30 125.27L616.55 119.09L610.05 119.09Z" fill="#12807a"/><path d="M618.20 129.35L621.45 123.18L614.95 123.18Z" fill="#12807a"/><path d="M623.00 133.90L626.25 127.73L619.75 127.73Z" fill="#12807a"/><path d="M629.70 140.61L632.95 134.43L626.45 134.43Z" fill="#12807a"/><path d="M634.60 144.69L637.85 138.51L631.35 138.51Z" fill="#12807a"/><path d="M639.50 149.50L642.75 143.33L636.25 143.33Z" fill="#12807a"/><path d="M646.10 156.92L649.35 150.74L642.85 150.74Z" fill="#12807a"/><path d="M651.00 162.59L654.25 156.41L647.75 156.41Z" fill="#12807a"/><path d="M656.50 169.95L659.75 163.77L653.25 163.77Z" fill="#12807a"/><path d="M661.40 176.16L664.65 169.98L658.15 169.98Z" fill="#12807a"/><path d="M666.50 182.51L669.75 176.33L663.25 176.33Z" fill="#12807a"/><path d="M672.00 188.17L675.25 182.00L668.75 182.00Z" fill="#12807a"/><path d="M677.50 193.28L680.75 187.10L674.25 187.10Z" fill="#12807a"/>
<path d="M499.77 75.80L505.95 72.22L505.95 79.38Z" fill="#9d62c0"/><path d="M499.77 108.60L505.95 105.02L505.95 112.17Z" fill="#9d62c0"/><path d="M499.77 141.50L505.95 137.93L505.95 145.07Z" fill="#9d62c0"/><path d="M499.77 173.40L505.95 169.83L505.95 176.97Z" fill="#9d62c0"/><path d="M499.57 40.90L505.75 37.32L505.75 44.48Z" fill="#9d62c0"/><path d="M505.17 40.90L511.35 37.32L511.35 44.48Z" fill="#9d62c0"/><path d="M512.37 42.40L518.55 38.82L518.55 45.98Z" fill="#9d62c0"/><path d="M518.27 44.60L524.45 41.02L524.45 48.18Z" fill="#9d62c0"/><path d="M524.77 47.20L530.95 43.62L530.95 50.78Z" fill="#9d62c0"/><path d="M529.87 49.00L536.05 45.42L536.05 52.58Z" fill="#9d62c0"/><path d="M535.77 52.60L541.95 49.02L541.95 56.18Z" fill="#9d62c0"/><path d="M541.57 56.20L547.75 52.62L547.75 59.78Z" fill="#9d62c0"/><path d="M545.97 59.90L552.15 56.32L552.15 63.48Z" fill="#9d62c0"/><path d="M551.77 64.30L557.95 60.72L557.95 67.88Z" fill="#9d62c0"/><path d="M558.37 68.60L564.55 65.02L564.55 72.17Z" fill="#9d62c0"/><path d="M563.47 73.00L569.65 69.42L569.65 76.58Z" fill="#9d62c0"/><path d="M569.47 77.55L575.65 73.97L575.65 81.12Z" fill="#9d62c0"/><path d="M575.07 81.70L581.25 78.12L581.25 85.28Z" fill="#9d62c0"/><path d="M580.17 86.90L586.35 83.33L586.35 90.48Z" fill="#9d62c0"/><path d="M585.27 92.00L591.45 88.42L591.45 95.58Z" fill="#9d62c0"/><path d="M590.97 96.40L597.15 92.83L597.15 99.98Z" fill="#9d62c0"/><path d="M597.57 102.90L603.75 99.33L603.75 106.48Z" fill="#9d62c0"/><path d="M602.97 108.40L609.15 104.83L609.15 111.98Z" fill="#9d62c0"/><path d="M609.47 116.24L615.65 112.66L615.65 119.81Z" fill="#9d62c0"/><path d="M614.37 121.90L620.55 118.33L620.55 125.48Z" fill="#9d62c0"/><path d="M619.17 126.70L625.35 123.12L625.35 130.27Z" fill="#9d62c0"/><path d="M625.87 133.40L632.05 129.83L632.05 136.98Z" fill="#9d62c0"/><path d="M630.77 138.89L636.95 135.31L636.95 142.46Z" fill="#9d62c0"/><path d="M635.67 144.29L641.85 140.71L641.85 147.86Z" fill="#9d62c0"/><path d="M642.27 151.00L648.45 147.43L648.45 154.57Z" fill="#9d62c0"/><path d="M647.17 156.79L653.35 153.22L653.35 160.37Z" fill="#9d62c0"/><path d="M652.67 163.38L658.85 159.80L658.85 166.95Z" fill="#9d62c0"/><path d="M657.57 168.40L663.75 164.82L663.75 171.97Z" fill="#9d62c0"/><path d="M662.67 174.30L668.85 170.72L668.85 177.87Z" fill="#9d62c0"/><path d="M668.17 182.15L674.35 178.57L674.35 185.72Z" fill="#9d62c0"/><path d="M673.67 188.43L679.85 184.86L679.85 192.01Z" fill="#9d62c0"/>
<path d="M663.0 19.1H687.8" stroke="#202020" stroke-width="1.5"/>
<rect x="672.54" y="16.24" width="5.71" height="5.71" fill="#000000"/>
<text x="690.40" y="22.90" font-family="Liberation Serif" font-size="11" font-weight="bold" text-anchor="start" fill="#111" >10&#956;L</text>
<path d="M663.0 32.8H687.8" stroke="#ff5a3c" stroke-width="1.5"/>
<circle cx="675.40" cy="32.80" r="3.13" fill="#ff3c14"/>
<text x="690.40" y="36.60" font-family="Liberation Serif" font-size="11" font-weight="bold" text-anchor="start" fill="#111" >8&#956;L</text>
<path d="M663.0 46.6H687.8" stroke="#3a6cc8" stroke-width="1.5"/>
<path d="M675.40 42.72L678.80 49.18L672.00 49.18Z" fill="#0b47b4"/>
<text x="690.40" y="50.40" font-family="Liberation Serif" font-size="11" font-weight="bold" text-anchor="start" fill="#111" >6&#956;L</text>
<path d="M663.0 60.4H687.8" stroke="#3c9c94" stroke-width="1.5"/>
<path d="M675.40 64.28L678.80 57.82L672.00 57.82Z" fill="#12807a"/>
<text x="690.40" y="64.20" font-family="Liberation Serif" font-size="11" font-weight="bold" text-anchor="start" fill="#111" >4&#956;L</text>
<path d="M663.0 74.2H687.8" stroke="#a878cc" stroke-width="1.5"/>
<path d="M671.39 74.20L677.85 70.46L677.85 77.94Z" fill="#9d62c0"/>
<text x="690.40" y="78.00" font-family="Liberation Serif" font-size="11" font-weight="bold" text-anchor="start" fill="#111" >2&#956;L</text>
<path d="M487.10 76.40L487.10 124.00" stroke="#111" stroke-width="1.1"/>
<path d="M487.10 130.20L484.40 123.00L487.10 124.50L489.80 123.00Z" fill="#111"/>
<text x="487.30" y="158.60" font-family="Liberation Sans" font-size="11" font-weight="bold" text-anchor="middle" fill="#111" >3</text>
<path d="M527.90 207.10L600.80 208.11" stroke="#111" stroke-width="1.1"/>
<path d="M607.00 208.20L599.76 210.80L601.30 208.12L599.84 205.40Z" fill="#111"/>
<text x="622.00" y="215.60" font-family="Liberation Sans" font-size="11" font-weight="bold" text-anchor="middle" fill="#111" >1</text>
<path d="M656.30 132.20L612.62 89.15" stroke="#111" stroke-width="1.1"/>
<path d="M608.20 84.80L615.22 87.93L612.26 88.80L611.43 91.78Z" fill="#111"/>
<text x="603.60" y="82.40" font-family="Liberation Sans" font-size="11" font-weight="bold" text-anchor="middle" fill="#111" >2</text>
<text x="370.00" y="29.60" font-family="Liberation Serif" font-size="20" font-weight="normal" text-anchor="start" fill="#111" >(b)</text>
<text x="567.00" y="267.90" font-family="Liberation Serif" font-size="13" font-weight="bold" text-anchor="middle" fill="#111" >Distance (mm)</text>
<text x="0.00" y="0.00" font-family="Liberation Serif" font-size="13.3" font-weight="bold" text-anchor="middle" fill="#111" transform="translate(388.3 123.5) rotate(-90)">Adhesive force (&#956;N)</text>
<path d="M48.4 284.1H352.9V506.7H48.4Z" fill="none" stroke="#3a3a3a" stroke-width="1.3"/>
<path d="M43.4 506.66H48.4" stroke="#3a3a3a" stroke-width="1.2"/>
<text x="40.60" y="510.06" font-family="Liberation Sans" font-size="11" font-weight="normal" text-anchor="end" fill="#222" >-20</text>
<path d="M43.4 473.70H48.4" stroke="#3a3a3a" stroke-width="1.2"/>
<text x="40.60" y="477.10" font-family="Liberation Sans" font-size="11" font-weight="normal" text-anchor="end" fill="#222" >0</text>
<path d="M43.4 440.74H48.4" stroke="#3a3a3a" stroke-width="1.2"/>
<text x="40.60" y="444.14" font-family="Liberation Sans" font-size="11" font-weight="normal" text-anchor="end" fill="#222" >20</text>
<path d="M43.4 407.78H48.4" stroke="#3a3a3a" stroke-width="1.2"/>
<text x="40.60" y="411.18" font-family="Liberation Sans" font-size="11" font-weight="normal" text-anchor="end" fill="#222" >40</text>
<path d="M43.4 374.82H48.4" stroke="#3a3a3a" stroke-width="1.2"/>
<text x="40.60" y="378.22" font-family="Liberation Sans" font-size="11" font-weight="normal" text-anchor="end" fill="#222" >60</text>
<path d="M43.4 341.86H48.4" stroke="#3a3a3a" stroke-width="1.2"/>
<text x="40.60" y="345.26" font-family="Liberation Sans" font-size="11" font-weight="normal" text-anchor="end" fill="#222" >80</text>
<path d="M43.4 308.90H48.4" stroke="#3a3a3a" stroke-width="1.2"/>
<text x="40.60" y="312.30" font-family="Liberation Sans" font-size="11" font-weight="normal" text-anchor="end" fill="#222" >100</text>
<path d="M45.4 490.18H48.4" stroke="#3a3a3a" stroke-width="1.2"/>
<path d="M45.4 457.22H48.4" stroke="#3a3a3a" stroke-width="1.2"/>
<path d="M45.4 424.26H48.4" stroke="#3a3a3a" stroke-width="1.2"/>
<path d="M45.4 391.30H48.4" stroke="#3a3a3a" stroke-width="1.2"/>
<path d="M45.4 358.34H48.4" stroke="#3a3a3a" stroke-width="1.2"/>
<path d="M45.4 325.38H48.4" stroke="#3a3a3a" stroke-width="1.2"/>
<path d="M45.4 292.42H48.4" stroke="#3a3a3a" stroke-width="1.2"/>
<path d="M48.40 506.7V511.7" stroke="#3a3a3a" stroke-width="1.2"/>
<text x="48.40" y="523.00" font-family="Liberation Sans" font-size="11" font-weight="normal" text-anchor="middle" fill="#222" >0.6</text>
<path d="M183.70 506.7V511.7" stroke="#3a3a3a" stroke-width="1.2"/>
<text x="183.70" y="523.00" font-family="Liberation Sans" font-size="11" font-weight="normal" text-anchor="middle" fill="#222" >0.8</text>
<path d="M319.00 506.7V511.7" stroke="#3a3a3a" stroke-width="1.2"/>
<text x="319.00" y="523.00" font-family="Liberation Sans" font-size="11" font-weight="normal" text-anchor="middle" fill="#222" >1.0</text>
<path d="M116.05 506.7V509.7" stroke="#3a3a3a" stroke-width="1.2"/>
<path d="M251.35 506.7V509.7" stroke="#3a3a3a" stroke-width="1.2"/>
<path d="M48.90 473.70H318.00" fill="none" stroke="#202020" stroke-width="1.2"/>
<path d="M242.40 473.70V449.50L247.40 449.80L252.40 450.10L257.30 450.80L262.90 451.60L268.50 452.90L273.50 455.40L278.40 457.20L283.40 458.80L288.30 460.30L293.30 462.20L298.30 464.00L303.20 465.90L308.20 467.80L313.00 470.00L318.00 472.50" fill="none" stroke="#202020" stroke-width="1.2" stroke-linejoin="round"/>
<path d="M48.90 473.70H319.00" fill="none" stroke="#ff6a50" stroke-width="1.2"/>
<path d="M173.10 473.70V414.20L178.20 414.20L182.80 414.60L187.30 415.20L192.80 416.10L197.40 417.30L202.80 418.60L207.40 419.70L211.90 421.00L216.50 422.30L221.00 424.10L225.60 425.50L230.10 427.00L234.70 428.30L239.30 430.10L243.70 431.80L249.90 434.30L256.10 436.70L262.30 439.20L268.50 441.70L274.70 444.80L280.90 447.90L287.10 451.60L293.30 456.00L299.50 459.70L305.70 464.00L310.70 467.80L316.00 471.00L319.00 473.00" fill="none" stroke="#ff6a50" stroke-width="1.2" stroke-linejoin="round"/>
<path d="M48.90 473.70H320.00" fill="none" stroke="#4a78cc" stroke-width="1.2"/>
<path d="M165.50 473.70V392.40L170.00 392.40L174.60 392.80L179.10 393.10L183.70 393.70L188.30 394.60L193.70 396.40L198.30 397.70L202.80 399.10L207.40 400.90L211.90 402.80L216.50 405.10L221.00 407.00L225.60 409.10L230.10 411.00L234.70 412.80L239.30 415.00L243.80 417.30L248.40 419.20L254.00 423.00L260.80 427.50L266.00 430.50L271.00 434.00L281.30 440.80L291.50 448.50L301.70 457.40L310.60 465.10L317.00 469.50L320.00 472.50" fill="none" stroke="#4a78cc" stroke-width="1.2" stroke-linejoin="round"/>
<path d="M48.90 473.70H320.50" fill="none" stroke="#4aa49c" stroke-width="1.2"/>
<path d="M132.40 473.70V357.60L138.10 358.30L144.80 359.60L151.40 361.30L158.00 362.90L164.60 364.90L171.30 367.10L177.90 369.60L184.50 372.10L191.10 375.40L197.70 378.70L204.40 382.00L211.00 385.80L219.20 391.20L225.00 395.00L230.20 398.70L240.40 406.40L250.60 414.00L260.80 421.70L271.00 429.30L281.30 438.30L291.50 447.20L301.70 456.10L310.60 462.50L318.30 468.90L320.50 472.50" fill="none" stroke="#4aa49c" stroke-width="1.2" stroke-linejoin="round"/>
<path d="M48.90 473.70H320.80" fill="none" stroke="#b488d4" stroke-width="1.2"/>
<path d="M123.20 473.70V314.90L126.60 314.90L133.20 316.30L139.80 317.40L146.40 319.60L153.00 321.60L159.70 323.50L166.30 326.20L172.90 329.00L179.50 331.50L186.20 334.80L192.80 339.80L199.40 344.70L206.00 348.90L212.60 353.80L219.30 359.40L226.00 364.80L233.70 370.80L240.40 375.50L248.30 383.60L255.00 390.00L262.90 397.10L271.00 407.60L281.30 420.40L291.50 433.20L301.70 445.90L309.30 456.10L315.70 465.10L320.80 472.00" fill="none" stroke="#b488d4" stroke-width="1.2" stroke-linejoin="round"/>
<path d="M49.90 469.44L52.85 475.04L46.95 475.04Z" fill="#0b47b4"/><path d="M54.70 469.44L57.65 475.04L51.75 475.04Z" fill="#0b47b4"/><path d="M59.50 469.44L62.45 475.04L56.55 475.04Z" fill="#0b47b4"/><path d="M64.30 469.44L67.25 475.04L61.35 475.04Z" fill="#0b47b4"/><path d="M69.10 469.44L72.05 475.04L66.15 475.04Z" fill="#0b47b4"/><path d="M73.90 469.44L76.85 475.04L70.95 475.04Z" fill="#0b47b4"/><path d="M78.70 469.44L81.65 475.04L75.75 475.04Z" fill="#0b47b4"/><path d="M83.50 469.44L86.45 475.04L80.55 475.04Z" fill="#0b47b4"/><path d="M88.30 469.44L91.25 475.04L85.35 475.04Z" fill="#0b47b4"/><path d="M93.10 469.44L96.05 475.04L90.15 475.04Z" fill="#0b47b4"/><path d="M97.90 469.44L100.85 475.04L94.95 475.04Z" fill="#0b47b4"/><path d="M102.70 469.44L105.65 475.04L99.75 475.04Z" fill="#0b47b4"/><path d="M107.50 469.44L110.45 475.04L104.55 475.04Z" fill="#0b47b4"/><path d="M112.30 469.44L115.25 475.04L109.35 475.04Z" fill="#0b47b4"/><path d="M117.10 469.44L120.05 475.04L114.15 475.04Z" fill="#0b47b4"/><path d="M121.90 469.44L124.85 475.04L118.95 475.04Z" fill="#0b47b4"/><path d="M126.70 469.44L129.65 475.04L123.75 475.04Z" fill="#0b47b4"/><path d="M131.50 469.44L134.45 475.04L128.55 475.04Z" fill="#0b47b4"/><path d="M136.30 469.44L139.25 475.04L133.35 475.04Z" fill="#0b47b4"/><path d="M141.10 469.44L144.05 475.04L138.15 475.04Z" fill="#0b47b4"/><path d="M145.90 469.44L148.85 475.04L142.95 475.04Z" fill="#0b47b4"/><path d="M150.70 469.44L153.65 475.04L147.75 475.04Z" fill="#0b47b4"/><path d="M155.50 469.44L158.45 475.04L152.55 475.04Z" fill="#0b47b4"/><path d="M160.30 469.44L163.25 475.04L157.35 475.04Z" fill="#0b47b4"/><path d="M165.10 469.44L168.05 475.04L162.15 475.04Z" fill="#0b47b4"/><path d="M169.90 469.44L172.85 475.04L166.95 475.04Z" fill="#0b47b4"/><path d="M174.70 469.44L177.65 475.04L171.75 475.04Z" fill="#0b47b4"/><path d="M179.50 469.44L182.45 475.04L176.55 475.04Z" fill="#0b47b4"/><path d="M184.30 469.44L187.25 475.04L181.35 475.04Z" fill="#0b47b4"/><path d="M189.10 469.44L192.05 475.04L186.15 475.04Z" fill="#0b47b4"/><path d="M193.90 469.44L196.85 475.04L190.95 475.04Z" fill="#0b47b4"/><path d="M198.70 469.44L201.65 475.04L195.75 475.04Z" fill="#0b47b4"/><path d="M203.50 469.44L206.45 475.04L200.55 475.04Z" fill="#0b47b4"/><path d="M208.30 469.44L211.25 475.04L205.35 475.04Z" fill="#0b47b4"/><path d="M213.10 469.44L216.05 475.04L210.15 475.04Z" fill="#0b47b4"/><path d="M217.90 469.44L220.85 475.04L214.95 475.04Z" fill="#0b47b4"/><path d="M222.70 469.44L225.65 475.04L219.75 475.04Z" fill="#0b47b4"/><path d="M227.50 469.44L230.45 475.04L224.55 475.04Z" fill="#0b47b4"/><path d="M232.30 469.44L235.25 475.04L229.35 475.04Z" fill="#0b47b4"/><path d="M237.10 469.44L240.05 475.04L234.15 475.04Z" fill="#0b47b4"/><path d="M241.90 469.44L244.85 475.04L238.95 475.04Z" fill="#0b47b4"/><path d="M246.70 469.44L249.65 475.04L243.75 475.04Z" fill="#0b47b4"/><path d="M251.50 469.44L254.45 475.04L248.55 475.04Z" fill="#0b47b4"/><path d="M256.30 469.44L259.25 475.04L253.35 475.04Z" fill="#0b47b4"/><path d="M261.10 469.44L264.05 475.04L258.15 475.04Z" fill="#0b47b4"/><path d="M265.90 469.44L268.85 475.04L262.95 475.04Z" fill="#0b47b4"/><path d="M270.70 469.44L273.65 475.04L267.75 475.04Z" fill="#0b47b4"/><path d="M275.50 469.44L278.45 475.04L272.55 475.04Z" fill="#0b47b4"/><path d="M280.30 469.44L283.25 475.04L277.35 475.04Z" fill="#0b47b4"/><path d="M285.10 469.44L288.05 475.04L282.15 475.04Z" fill="#0b47b4"/><path d="M289.90 469.44L292.85 475.04L286.95 475.04Z" fill="#0b47b4"/><path d="M294.70 469.44L297.65 475.04L291.75 475.04Z" fill="#0b47b4"/><path d="M299.50 469.44L302.45 475.04L296.55 475.04Z" fill="#0b47b4"/><path d="M304.30 469.44L307.25 475.04L301.35 475.04Z" fill="#0b47b4"/><path d="M309.10 469.44L312.05 475.04L306.15 475.04Z" fill="#0b47b4"/><path d="M313.90 469.44L316.85 475.04L310.95 475.04Z" fill="#0b47b4"/><path d="M318.70 469.44L321.65 475.04L315.75 475.04Z" fill="#0b47b4"/>
<path d="M51.40 477.36L54.35 471.76L48.45 471.76Z" fill="#12807a"/><path d="M56.20 477.36L59.15 471.76L53.25 471.76Z" fill="#12807a"/><path d="M61.00 477.36L63.95 471.76L58.05 471.76Z" fill="#12807a"/><path d="M65.80 477.36L68.75 471.76L62.85 471.76Z" fill="#12807a"/><path d="M70.60 477.36L73.55 471.76L67.65 471.76Z" fill="#12807a"/><path d="M75.40 477.36L78.35 471.76L72.45 471.76Z" fill="#12807a"/><path d="M80.20 477.36L83.15 471.76L77.25 471.76Z" fill="#12807a"/><path d="M85.00 477.36L87.95 471.76L82.05 471.76Z" fill="#12807a"/><path d="M89.80 477.36L92.75 471.76L86.85 471.76Z" fill="#12807a"/><path d="M94.60 477.36L97.55 471.76L91.65 471.76Z" fill="#12807a"/><path d="M99.40 477.36L102.35 471.76L96.45 471.76Z" fill="#12807a"/><path d="M104.20 477.36L107.15 471.76L101.25 471.76Z" fill="#12807a"/><path d="M109.00 477.36L111.95 471.76L106.05 471.76Z" fill="#12807a"/><path d="M113.80 477.36L116.75 471.76L110.85 471.76Z" fill="#12807a"/><path d="M118.60 477.36L121.55 471.76L115.65 471.76Z" fill="#12807a"/><path d="M123.40 477.36L126.35 471.76L120.45 471.76Z" fill="#12807a"/><path d="M128.20 477.36L131.15 471.76L125.25 471.76Z" fill="#12807a"/><path d="M133.00 477.36L135.95 471.76L130.05 471.76Z" fill="#12807a"/><path d="M137.80 477.36L140.75 471.76L134.85 471.76Z" fill="#12807a"/><path d="M142.60 477.36L145.55 471.76L139.65 471.76Z" fill="#12807a"/><path d="M147.40 477.36L150.35 471.76L144.45 471.76Z" fill="#12807a"/><path d="M152.20 477.36L155.15 471.76L149.25 471.76Z" fill="#12807a"/><path d="M157.00 477.36L159.95 471.76L154.05 471.76Z" fill="#12807a"/><path d="M161.80 477.36L164.75 471.76L158.85 471.76Z" fill="#12807a"/><path d="M166.60 477.36L169.55 471.76L163.65 471.76Z" fill="#12807a"/><path d="M171.40 477.36L174.35 471.76L168.45 471.76Z" fill="#12807a"/><path d="M176.20 477.36L179.15 471.76L173.25 471.76Z" fill="#12807a"/><path d="M181.00 477.36L183.95 471.76L178.05 471.76Z" fill="#12807a"/><path d="M185.80 477.36L188.75 471.76L182.85 471.76Z" fill="#12807a"/><path d="M190.60 477.36L193.55 471.76L187.65 471.76Z" fill="#12807a"/><path d="M195.40 477.36L198.35 471.76L192.45 471.76Z" fill="#12807a"/><path d="M200.20 477.36L203.15 471.76L197.25 471.76Z" fill="#12807a"/><path d="M205.00 477.36L207.95 471.76L202.05 471.76Z" fill="#12807a"/><path d="M209.80 477.36L212.75 471.76L206.85 471.76Z" fill="#12807a"/><path d="M214.60 477.36L217.55 471.76L211.65 471.76Z" fill="#12807a"/><path d="M219.40 477.36L222.35 471.76L216.45 471.76Z" fill="#12807a"/><path d="M224.20 477.36L227.15 471.76L221.25 471.76Z" fill="#12807a"/><path d="M229.00 477.36L231.95 471.76L226.05 471.76Z" fill="#12807a"/><path d="M233.80 477.36L236.75 471.76L230.85 471.76Z" fill="#12807a"/><path d="M238.60 477.36L241.55 471.76L235.65 471.76Z" fill="#12807a"/><path d="M243.40 477.36L246.35 471.76L240.45 471.76Z" fill="#12807a"/><path d="M248.20 477.36L251.15 471.76L245.25 471.76Z" fill="#12807a"/><path d="M253.00 477.36L255.95 471.76L250.05 471.76Z" fill="#12807a"/><path d="M257.80 477.36L260.75 471.76L254.85 471.76Z" fill="#12807a"/><path d="M262.60 477.36L265.55 471.76L259.65 471.76Z" fill="#12807a"/><path d="M267.40 477.36L270.35 471.76L264.45 471.76Z" fill="#12807a"/><path d="M272.20 477.36L275.15 471.76L269.25 471.76Z" fill="#12807a"/><path d="M277.00 477.36L279.95 471.76L274.05 471.76Z" fill="#12807a"/><path d="M281.80 477.36L284.75 471.76L278.85 471.76Z" fill="#12807a"/><path d="M286.60 477.36L289.55 471.76L283.65 471.76Z" fill="#12807a"/><path d="M291.40 477.36L294.35 471.76L288.45 471.76Z" fill="#12807a"/><path d="M296.20 477.36L299.15 471.76L293.25 471.76Z" fill="#12807a"/><path d="M301.00 477.36L303.95 471.76L298.05 471.76Z" fill="#12807a"/><path d="M305.80 477.36L308.75 471.76L302.85 471.76Z" fill="#12807a"/><path d="M310.60 477.36L313.55 471.76L307.65 471.76Z" fill="#12807a"/><path d="M315.40 477.36L318.35 471.76L312.45 471.76Z" fill="#12807a"/><path d="M320.20 477.36L323.15 471.76L317.25 471.76Z" fill="#12807a"/>
<path d="M45.42 473.40L51.03 470.15L51.03 476.64Z" fill="#9d62c0"/><path d="M50.22 473.40L55.83 470.15L55.83 476.64Z" fill="#9d62c0"/><path d="M55.02 473.40L60.63 470.15L60.63 476.64Z" fill="#9d62c0"/><path d="M59.82 473.40L65.43 470.15L65.43 476.64Z" fill="#9d62c0"/><path d="M64.62 473.40L70.23 470.15L70.23 476.64Z" fill="#9d62c0"/><path d="M69.42 473.40L75.03 470.15L75.03 476.64Z" fill="#9d62c0"/><path d="M74.22 473.40L79.83 470.15L79.83 476.64Z" fill="#9d62c0"/><path d="M79.02 473.40L84.63 470.15L84.63 476.64Z" fill="#9d62c0"/><path d="M83.82 473.40L89.43 470.15L89.43 476.64Z" fill="#9d62c0"/><path d="M88.62 473.40L94.23 470.15L94.23 476.64Z" fill="#9d62c0"/><path d="M93.42 473.40L99.03 470.15L99.03 476.64Z" fill="#9d62c0"/><path d="M98.22 473.40L103.83 470.15L103.83 476.64Z" fill="#9d62c0"/><path d="M103.02 473.40L108.63 470.15L108.63 476.64Z" fill="#9d62c0"/><path d="M107.82 473.40L113.43 470.15L113.43 476.64Z" fill="#9d62c0"/><path d="M112.62 473.40L118.23 470.15L118.23 476.64Z" fill="#9d62c0"/><path d="M117.42 473.40L123.03 470.15L123.03 476.64Z" fill="#9d62c0"/><path d="M122.22 473.40L127.83 470.15L127.83 476.64Z" fill="#9d62c0"/><path d="M127.02 473.40L132.63 470.15L132.63 476.64Z" fill="#9d62c0"/><path d="M131.82 473.40L137.43 470.15L137.43 476.64Z" fill="#9d62c0"/><path d="M136.62 473.40L142.23 470.15L142.23 476.64Z" fill="#9d62c0"/><path d="M141.42 473.40L147.03 470.15L147.03 476.64Z" fill="#9d62c0"/><path d="M146.22 473.40L151.83 470.15L151.83 476.64Z" fill="#9d62c0"/><path d="M151.02 473.40L156.63 470.15L156.63 476.64Z" fill="#9d62c0"/><path d="M155.82 473.40L161.43 470.15L161.43 476.64Z" fill="#9d62c0"/><path d="M160.62 473.40L166.23 470.15L166.23 476.64Z" fill="#9d62c0"/><path d="M165.42 473.40L171.03 470.15L171.03 476.64Z" fill="#9d62c0"/><path d="M170.22 473.40L175.83 470.15L175.83 476.64Z" fill="#9d62c0"/><path d="M175.02 473.40L180.63 470.15L180.63 476.64Z" fill="#9d62c0"/><path d="M179.82 473.40L185.43 470.15L185.43 476.64Z" fill="#9d62c0"/><path d="M184.62 473.40L190.23 470.15L190.23 476.64Z" fill="#9d62c0"/><path d="M189.42 473.40L195.03 470.15L195.03 476.64Z" fill="#9d62c0"/><path d="M194.22 473.40L199.83 470.15L199.83 476.64Z" fill="#9d62c0"/><path d="M199.02 473.40L204.63 470.15L204.63 476.64Z" fill="#9d62c0"/><path d="M203.82 473.40L209.43 470.15L209.43 476.64Z" fill="#9d62c0"/><path d="M208.62 473.40L214.23 470.15L214.23 476.64Z" fill="#9d62c0"/><path d="M213.42 473.40L219.03 470.15L219.03 476.64Z" fill="#9d62c0"/><path d="M218.22 473.40L223.83 470.15L223.83 476.64Z" fill="#9d62c0"/><path d="M223.02 473.40L228.63 470.15L228.63 476.64Z" fill="#9d62c0"/><path d="M227.82 473.40L233.43 470.15L233.43 476.64Z" fill="#9d62c0"/><path d="M232.62 473.40L238.23 470.15L238.23 476.64Z" fill="#9d62c0"/><path d="M237.42 473.40L243.03 470.15L243.03 476.64Z" fill="#9d62c0"/><path d="M242.22 473.40L247.83 470.15L247.83 476.64Z" fill="#9d62c0"/><path d="M247.02 473.40L252.63 470.15L252.63 476.64Z" fill="#9d62c0"/><path d="M251.82 473.40L257.43 470.15L257.43 476.64Z" fill="#9d62c0"/><path d="M256.62 473.40L262.23 470.15L262.23 476.64Z" fill="#9d62c0"/><path d="M261.42 473.40L267.03 470.15L267.03 476.64Z" fill="#9d62c0"/><path d="M266.22 473.40L271.83 470.15L271.83 476.64Z" fill="#9d62c0"/><path d="M271.02 473.40L276.63 470.15L276.63 476.64Z" fill="#9d62c0"/><path d="M275.82 473.40L281.43 470.15L281.43 476.64Z" fill="#9d62c0"/><path d="M280.62 473.40L286.23 470.15L286.23 476.64Z" fill="#9d62c0"/><path d="M285.42 473.40L291.03 470.15L291.03 476.64Z" fill="#9d62c0"/><path d="M290.22 473.40L295.83 470.15L295.83 476.64Z" fill="#9d62c0"/><path d="M295.02 473.40L300.63 470.15L300.63 476.64Z" fill="#9d62c0"/><path d="M299.82 473.40L305.43 470.15L305.43 476.64Z" fill="#9d62c0"/><path d="M304.62 473.40L310.23 470.15L310.23 476.64Z" fill="#9d62c0"/><path d="M309.42 473.40L315.03 470.15L315.03 476.64Z" fill="#9d62c0"/><path d="M314.22 473.40L319.83 470.15L319.83 476.64Z" fill="#9d62c0"/>
<rect x="239.92" y="456.22" width="4.96" height="4.96" fill="#000000"/><rect x="239.92" y="462.22" width="4.96" height="4.96" fill="#000000"/><rect x="239.92" y="447.02" width="4.96" height="4.96" fill="#000000"/><rect x="244.02" y="447.27" width="4.96" height="4.96" fill="#000000"/><rect x="248.12" y="447.51" width="4.96" height="4.96" fill="#000000"/><rect x="252.22" y="447.95" width="4.96" height="4.96" fill="#000000"/><rect x="256.32" y="448.54" width="4.96" height="4.96" fill="#000000"/><rect x="260.42" y="449.12" width="4.96" height="4.96" fill="#000000"/><rect x="264.52" y="450.07" width="4.96" height="4.96" fill="#000000"/><rect x="268.62" y="451.72" width="4.96" height="4.96" fill="#000000"/><rect x="272.72" y="453.55" width="4.96" height="4.96" fill="#000000"/><rect x="276.82" y="455.01" width="4.96" height="4.96" fill="#000000"/><rect x="280.92" y="456.32" width="4.96" height="4.96" fill="#000000"/><rect x="285.02" y="457.58" width="4.96" height="4.96" fill="#000000"/><rect x="289.12" y="459.08" width="4.96" height="4.96" fill="#000000"/><rect x="293.22" y="460.59" width="4.96" height="4.96" fill="#000000"/><rect x="297.32" y="462.10" width="4.96" height="4.96" fill="#000000"/><rect x="301.42" y="463.69" width="4.96" height="4.96" fill="#000000"/><rect x="305.52" y="465.25" width="4.96" height="4.96" fill="#000000"/><rect x="309.62" y="467.11" width="4.96" height="4.96" fill="#000000"/><rect x="313.72" y="469.12" width="4.96" height="4.96" fill="#000000"/>
<circle cx="173.10" cy="427.56" r="2.71" fill="#ff3c14"/><circle cx="173.10" cy="440.74" r="2.71" fill="#ff3c14"/><circle cx="173.10" cy="457.22" r="2.71" fill="#ff3c14"/><circle cx="173.10" cy="414.20" r="2.71" fill="#ff3c14"/><circle cx="177.20" cy="414.20" r="2.71" fill="#ff3c14"/><circle cx="181.30" cy="414.47" r="2.71" fill="#ff3c14"/><circle cx="185.40" cy="414.95" r="2.71" fill="#ff3c14"/><circle cx="189.50" cy="415.56" r="2.71" fill="#ff3c14"/><circle cx="193.60" cy="416.31" r="2.71" fill="#ff3c14"/><circle cx="197.70" cy="417.37" r="2.71" fill="#ff3c14"/><circle cx="201.80" cy="418.36" r="2.71" fill="#ff3c14"/><circle cx="205.90" cy="419.34" r="2.71" fill="#ff3c14"/><circle cx="210.00" cy="420.45" r="2.71" fill="#ff3c14"/><circle cx="214.10" cy="421.62" r="2.71" fill="#ff3c14"/><circle cx="218.20" cy="422.98" r="2.71" fill="#ff3c14"/><circle cx="222.30" cy="424.50" r="2.71" fill="#ff3c14"/><circle cx="226.40" cy="425.77" r="2.71" fill="#ff3c14"/><circle cx="230.50" cy="427.11" r="2.71" fill="#ff3c14"/><circle cx="234.60" cy="428.27" r="2.71" fill="#ff3c14"/><circle cx="238.70" cy="429.87" r="2.71" fill="#ff3c14"/><circle cx="242.80" cy="431.45" r="2.71" fill="#ff3c14"/><circle cx="246.90" cy="433.09" r="2.71" fill="#ff3c14"/><circle cx="251.00" cy="434.73" r="2.71" fill="#ff3c14"/><circle cx="255.10" cy="436.31" r="2.71" fill="#ff3c14"/><circle cx="259.20" cy="437.95" r="2.71" fill="#ff3c14"/><circle cx="263.30" cy="439.60" r="2.71" fill="#ff3c14"/><circle cx="267.40" cy="441.26" r="2.71" fill="#ff3c14"/><circle cx="271.50" cy="443.20" r="2.71" fill="#ff3c14"/><circle cx="275.60" cy="445.25" r="2.71" fill="#ff3c14"/><circle cx="279.70" cy="447.30" r="2.71" fill="#ff3c14"/><circle cx="283.80" cy="449.63" r="2.71" fill="#ff3c14"/><circle cx="287.90" cy="452.17" r="2.71" fill="#ff3c14"/><circle cx="292.00" cy="455.08" r="2.71" fill="#ff3c14"/><circle cx="296.10" cy="457.67" r="2.71" fill="#ff3c14"/><circle cx="300.20" cy="460.19" r="2.71" fill="#ff3c14"/><circle cx="304.30" cy="463.03" r="2.71" fill="#ff3c14"/><circle cx="308.40" cy="466.05" r="2.71" fill="#ff3c14"/><circle cx="312.50" cy="468.89" r="2.71" fill="#ff3c14"/><circle cx="316.60" cy="471.40" r="2.71" fill="#ff3c14"/>
<path d="M165.50 404.42L168.45 410.02L162.55 410.02Z" fill="#0b47b4"/><path d="M165.50 420.90L168.45 426.50L162.55 426.50Z" fill="#0b47b4"/><path d="M165.50 437.38L168.45 442.98L162.55 442.98Z" fill="#0b47b4"/><path d="M165.50 453.86L168.45 459.46L162.55 459.46Z" fill="#0b47b4"/><path d="M165.50 389.04L168.45 394.64L162.55 394.64Z" fill="#0b47b4"/><path d="M169.60 389.04L172.55 394.64L166.65 394.64Z" fill="#0b47b4"/><path d="M173.70 389.36L176.65 394.96L170.75 394.96Z" fill="#0b47b4"/><path d="M177.80 389.65L180.75 395.26L174.85 395.26Z" fill="#0b47b4"/><path d="M181.90 390.10L184.85 395.71L178.95 395.71Z" fill="#0b47b4"/><path d="M186.00 390.79L188.95 396.39L183.05 396.39Z" fill="#0b47b4"/><path d="M190.10 391.84L193.05 397.44L187.15 397.44Z" fill="#0b47b4"/><path d="M194.20 393.18L197.15 398.78L191.25 398.78Z" fill="#0b47b4"/><path d="M198.30 394.34L201.25 399.94L195.35 399.94Z" fill="#0b47b4"/><path d="M202.40 395.61L205.35 401.22L199.45 401.22Z" fill="#0b47b4"/><path d="M206.50 397.18L209.45 402.79L203.55 402.79Z" fill="#0b47b4"/><path d="M210.60 398.89L213.55 404.49L207.65 404.49Z" fill="#0b47b4"/><path d="M214.70 400.84L217.65 406.44L211.75 406.44Z" fill="#0b47b4"/><path d="M218.80 402.71L221.75 408.31L215.85 408.31Z" fill="#0b47b4"/><path d="M222.90 404.50L225.85 410.11L219.95 410.11Z" fill="#0b47b4"/><path d="M227.00 406.33L229.95 411.93L224.05 411.93Z" fill="#0b47b4"/><path d="M231.10 408.03L234.05 413.63L228.15 413.63Z" fill="#0b47b4"/><path d="M235.20 409.68L238.15 415.28L232.25 415.28Z" fill="#0b47b4"/><path d="M239.30 411.64L242.25 417.24L236.35 417.24Z" fill="#0b47b4"/><path d="M243.40 413.73L246.35 419.34L240.45 419.34Z" fill="#0b47b4"/><path d="M247.50 415.47L250.45 421.07L244.55 421.07Z" fill="#0b47b4"/><path d="M251.60 418.01L254.55 423.61L248.65 423.61Z" fill="#0b47b4"/><path d="M255.70 420.76L258.65 426.37L252.75 426.37Z" fill="#0b47b4"/><path d="M259.80 423.48L262.75 429.08L256.85 429.08Z" fill="#0b47b4"/><path d="M263.90 425.93L266.85 431.53L260.95 431.53Z" fill="#0b47b4"/><path d="M268.00 428.54L270.95 434.14L265.05 434.14Z" fill="#0b47b4"/><path d="M272.10 431.36L275.05 436.97L269.15 436.97Z" fill="#0b47b4"/><path d="M276.20 434.07L279.15 439.68L273.25 439.68Z" fill="#0b47b4"/><path d="M280.30 436.78L283.25 442.38L277.35 442.38Z" fill="#0b47b4"/><path d="M284.40 439.78L287.35 445.38L281.45 445.38Z" fill="#0b47b4"/><path d="M288.50 442.87L291.45 448.48L285.55 448.48Z" fill="#0b47b4"/><path d="M292.60 446.10L295.55 451.70L289.65 451.70Z" fill="#0b47b4"/><path d="M296.70 449.67L299.65 455.28L293.75 455.28Z" fill="#0b47b4"/><path d="M300.80 453.25L303.75 458.86L297.85 458.86Z" fill="#0b47b4"/><path d="M304.90 456.81L307.85 462.41L301.95 462.41Z" fill="#0b47b4"/><path d="M309.00 460.35L311.95 465.96L306.05 465.96Z" fill="#0b47b4"/><path d="M313.10 463.46L316.05 469.06L310.15 469.06Z" fill="#0b47b4"/><path d="M317.20 466.34L320.15 471.94L314.25 471.94Z" fill="#0b47b4"/>
<path d="M132.40 378.18L135.35 372.58L129.45 372.58Z" fill="#12807a"/><path d="M132.40 394.66L135.35 389.06L129.45 389.06Z" fill="#12807a"/><path d="M132.40 411.14L135.35 405.54L129.45 405.54Z" fill="#12807a"/><path d="M132.40 427.62L135.35 422.02L129.45 422.02Z" fill="#12807a"/><path d="M132.40 444.10L135.35 438.50L129.45 438.50Z" fill="#12807a"/><path d="M132.40 460.58L135.35 454.98L129.45 454.98Z" fill="#12807a"/><path d="M132.40 360.96L135.35 355.36L129.45 355.36Z" fill="#12807a"/><path d="M136.50 361.47L139.45 355.86L133.55 355.86Z" fill="#12807a"/><path d="M140.60 362.15L143.55 356.54L137.65 356.54Z" fill="#12807a"/><path d="M144.70 362.94L147.65 357.34L141.75 357.34Z" fill="#12807a"/><path d="M148.80 363.99L151.75 358.39L145.85 358.39Z" fill="#12807a"/><path d="M152.90 365.03L155.85 359.42L149.95 359.42Z" fill="#12807a"/><path d="M157.00 366.02L159.95 360.42L154.05 360.42Z" fill="#12807a"/><path d="M161.10 367.20L164.05 361.60L158.15 361.60Z" fill="#12807a"/><path d="M165.20 368.46L168.15 362.86L162.25 362.86Z" fill="#12807a"/><path d="M169.30 369.81L172.25 364.20L166.35 364.20Z" fill="#12807a"/><path d="M173.40 371.26L176.35 365.65L170.45 365.65Z" fill="#12807a"/><path d="M177.50 372.81L180.45 367.21L174.55 367.21Z" fill="#12807a"/><path d="M181.60 374.36L184.55 368.76L178.65 368.76Z" fill="#12807a"/><path d="M185.70 376.06L188.65 370.46L182.75 370.46Z" fill="#12807a"/><path d="M189.80 378.11L192.75 372.51L186.85 372.51Z" fill="#12807a"/><path d="M193.90 380.16L196.85 374.56L190.95 374.56Z" fill="#12807a"/><path d="M198.00 382.21L200.95 376.61L195.05 376.61Z" fill="#12807a"/><path d="M202.10 384.23L205.05 378.63L199.15 378.63Z" fill="#12807a"/><path d="M206.20 386.40L209.15 380.79L203.25 380.79Z" fill="#12807a"/><path d="M210.30 388.76L213.25 383.15L207.35 383.15Z" fill="#12807a"/><path d="M214.40 391.40L217.35 385.80L211.45 385.80Z" fill="#12807a"/><path d="M218.50 394.10L221.45 388.50L215.55 388.50Z" fill="#12807a"/><path d="M222.60 396.79L225.55 391.19L219.65 391.19Z" fill="#12807a"/><path d="M226.70 399.57L229.65 393.97L223.75 393.97Z" fill="#12807a"/><path d="M230.80 402.52L233.75 396.91L227.85 396.91Z" fill="#12807a"/><path d="M234.90 405.61L237.85 400.01L231.95 400.01Z" fill="#12807a"/><path d="M239.00 408.71L241.95 403.10L236.05 403.10Z" fill="#12807a"/><path d="M243.10 411.77L246.05 406.17L240.15 406.17Z" fill="#12807a"/><path d="M247.20 414.83L250.15 409.22L244.25 409.22Z" fill="#12807a"/><path d="M251.30 417.89L254.25 412.29L248.35 412.29Z" fill="#12807a"/><path d="M255.40 420.99L258.35 415.38L252.45 415.38Z" fill="#12807a"/><path d="M259.50 424.08L262.45 418.48L256.55 418.48Z" fill="#12807a"/><path d="M263.60 427.15L266.55 421.54L260.65 421.54Z" fill="#12807a"/><path d="M267.70 430.20L270.65 424.60L264.75 424.60Z" fill="#12807a"/><path d="M271.80 433.36L274.75 427.76L268.85 427.76Z" fill="#12807a"/><path d="M275.90 436.94L278.85 431.34L272.95 431.34Z" fill="#12807a"/><path d="M280.00 440.53L282.95 434.92L277.05 434.92Z" fill="#12807a"/><path d="M284.10 444.11L287.05 438.50L281.15 438.50Z" fill="#12807a"/><path d="M288.20 447.68L291.15 442.08L285.25 442.08Z" fill="#12807a"/><path d="M292.30 451.26L295.25 445.66L289.35 445.66Z" fill="#12807a"/><path d="M296.40 454.84L299.35 449.23L293.45 449.23Z" fill="#12807a"/><path d="M300.50 458.42L303.45 452.81L297.55 452.81Z" fill="#12807a"/><path d="M304.60 461.55L307.55 455.94L301.65 455.94Z" fill="#12807a"/><path d="M308.70 464.50L311.65 458.89L305.75 458.89Z" fill="#12807a"/><path d="M312.80 467.69L315.75 462.09L309.85 462.09Z" fill="#12807a"/><path d="M316.90 471.10L319.85 465.49L313.95 465.49Z" fill="#12807a"/>
<path d="M119.72 325.38L125.33 322.13L125.33 328.62Z" fill="#9d62c0"/><path d="M119.72 341.86L125.33 338.62L125.33 345.11Z" fill="#9d62c0"/><path d="M119.72 358.34L125.33 355.09L125.33 361.58Z" fill="#9d62c0"/><path d="M119.72 374.82L125.33 371.57L125.33 378.06Z" fill="#9d62c0"/><path d="M119.72 391.30L125.33 388.06L125.33 394.55Z" fill="#9d62c0"/><path d="M119.72 407.78L125.33 404.53L125.33 411.02Z" fill="#9d62c0"/><path d="M119.72 424.26L125.33 421.01L125.33 427.50Z" fill="#9d62c0"/><path d="M119.72 440.74L125.33 437.50L125.33 443.99Z" fill="#9d62c0"/><path d="M119.72 457.22L125.33 453.97L125.33 460.46Z" fill="#9d62c0"/><path d="M119.72 314.90L125.33 311.65L125.33 318.14Z" fill="#9d62c0"/><path d="M123.82 315.05L129.43 311.80L129.43 318.29Z" fill="#9d62c0"/><path d="M127.92 315.92L133.53 312.67L133.53 319.16Z" fill="#9d62c0"/><path d="M132.02 316.68L137.63 313.44L137.63 319.93Z" fill="#9d62c0"/><path d="M136.12 317.37L141.73 314.12L141.73 320.61Z" fill="#9d62c0"/><path d="M140.22 318.70L145.83 315.45L145.83 321.94Z" fill="#9d62c0"/><path d="M144.32 320.02L149.93 316.78L149.93 323.27Z" fill="#9d62c0"/><path d="M148.42 321.27L154.03 318.02L154.03 324.51Z" fill="#9d62c0"/><path d="M152.52 322.45L158.13 319.21L158.13 325.70Z" fill="#9d62c0"/><path d="M156.62 323.66L162.23 320.42L162.23 326.91Z" fill="#9d62c0"/><path d="M160.72 325.34L166.33 322.10L166.33 328.59Z" fill="#9d62c0"/><path d="M164.82 327.05L170.43 323.80L170.43 330.29Z" fill="#9d62c0"/><path d="M168.92 328.79L174.53 325.54L174.53 332.03Z" fill="#9d62c0"/><path d="M173.02 330.36L178.63 327.12L178.63 333.61Z" fill="#9d62c0"/><path d="M177.12 332.04L182.73 328.80L182.73 335.29Z" fill="#9d62c0"/><path d="M181.22 334.06L186.83 330.82L186.83 337.31Z" fill="#9d62c0"/><path d="M185.32 336.77L190.93 333.52L190.93 340.01Z" fill="#9d62c0"/><path d="M189.42 339.87L195.03 336.63L195.03 343.12Z" fill="#9d62c0"/><path d="M193.52 342.92L199.13 339.67L199.13 346.16Z" fill="#9d62c0"/><path d="M197.62 345.78L203.23 342.54L203.23 349.03Z" fill="#9d62c0"/><path d="M201.72 348.39L207.33 345.15L207.33 351.64Z" fill="#9d62c0"/><path d="M205.82 351.35L211.43 348.10L211.43 354.59Z" fill="#9d62c0"/><path d="M209.92 354.47L215.53 351.22L215.53 357.71Z" fill="#9d62c0"/><path d="M214.02 357.90L219.63 354.65L219.63 361.14Z" fill="#9d62c0"/><path d="M218.12 361.25L223.73 358.01L223.73 364.50Z" fill="#9d62c0"/><path d="M222.22 364.56L227.83 361.31L227.83 367.80Z" fill="#9d62c0"/><path d="M226.32 367.76L231.93 364.52L231.93 371.01Z" fill="#9d62c0"/><path d="M230.42 370.94L236.03 367.70L236.03 374.19Z" fill="#9d62c0"/><path d="M234.52 373.82L240.13 370.57L240.13 377.06Z" fill="#9d62c0"/><path d="M238.62 377.24L244.23 374.00L244.23 380.49Z" fill="#9d62c0"/><path d="M242.72 381.45L248.33 378.20L248.33 384.69Z" fill="#9d62c0"/><path d="M246.82 385.51L252.43 382.27L252.43 388.76Z" fill="#9d62c0"/><path d="M250.92 389.43L256.53 386.18L256.53 392.67Z" fill="#9d62c0"/><path d="M255.02 393.15L260.63 389.90L260.63 396.39Z" fill="#9d62c0"/><path d="M259.12 396.83L264.73 393.59L264.73 400.08Z" fill="#9d62c0"/><path d="M263.22 402.03L268.83 398.78L268.83 405.27Z" fill="#9d62c0"/><path d="M267.32 407.34L272.93 404.10L272.93 410.59Z" fill="#9d62c0"/><path d="M271.42 412.45L277.03 409.20L277.03 415.69Z" fill="#9d62c0"/><path d="M275.52 417.54L281.13 414.30L281.13 420.79Z" fill="#9d62c0"/><path d="M279.62 422.66L285.23 419.41L285.23 425.90Z" fill="#9d62c0"/><path d="M283.72 427.80L289.33 424.56L289.33 431.05Z" fill="#9d62c0"/><path d="M287.82 432.95L293.43 429.70L293.43 436.19Z" fill="#9d62c0"/><path d="M291.92 438.06L297.53 434.81L297.53 441.30Z" fill="#9d62c0"/><path d="M296.02 443.16L301.63 439.92L301.63 446.41Z" fill="#9d62c0"/><path d="M300.12 448.45L305.73 445.21L305.73 451.70Z" fill="#9d62c0"/><path d="M304.22 453.95L309.83 450.71L309.83 457.20Z" fill="#9d62c0"/><path d="M308.32 459.62L313.93 456.37L313.93 462.86Z" fill="#9d62c0"/><path d="M312.42 465.37L318.03 462.13L318.03 468.62Z" fill="#9d62c0"/><path d="M316.52 470.92L322.13 467.67L322.13 474.16Z" fill="#9d62c0"/>
<path d="M291.4 298.8H316.2" stroke="#202020" stroke-width="1.5"/>
<rect x="300.94" y="295.94" width="5.71" height="5.71" fill="#000000"/>
<text x="319.40" y="302.60" font-family="Liberation Serif" font-size="11" font-weight="bold" text-anchor="start" fill="#111" >10&#956;L</text>
<path d="M291.4 312.4H316.2" stroke="#ff6a50" stroke-width="1.5"/>
<circle cx="303.80" cy="312.40" r="3.13" fill="#ff3c14"/>
<text x="319.40" y="316.20" font-family="Liberation Serif" font-size="11" font-weight="bold" text-anchor="start" fill="#111" >8&#956;L</text>
<path d="M291.4 326.3H316.2" stroke="#4a78cc" stroke-width="1.5"/>
<path d="M303.80 322.42L307.20 328.88L300.40 328.88Z" fill="#0b47b4"/>
<text x="319.40" y="330.10" font-family="Liberation Serif" font-size="11" font-weight="bold" text-anchor="start" fill="#111" >6&#956;L</text>
<path d="M291.4 340.1H316.2" stroke="#4aa49c" stroke-width="1.5"/>
<path d="M303.80 343.98L307.20 337.52L300.40 337.52Z" fill="#12807a"/>
<text x="319.40" y="343.90" font-family="Liberation Serif" font-size="11" font-weight="bold" text-anchor="start" fill="#111" >4&#956;L</text>
<path d="M291.4 353.8H316.2" stroke="#b488d4" stroke-width="1.5"/>
<path d="M299.79 353.80L306.25 350.06L306.25 357.54Z" fill="#9d62c0"/>
<text x="319.40" y="357.60" font-family="Liberation Serif" font-size="11" font-weight="bold" text-anchor="start" fill="#111" >2&#956;L</text>
<path d="M95.90 352.40L95.90 410.20" stroke="#111" stroke-width="1.1"/>
<path d="M95.90 416.40L93.20 409.20L95.90 410.70L98.60 409.20Z" fill="#111"/>
<text x="96.80" y="429.80" font-family="Liberation Sans" font-size="11" font-weight="bold" text-anchor="middle" fill="#111" >3</text>
<path d="M164.50 490.70L214.20 490.70" stroke="#111" stroke-width="1.1"/>
<path d="M220.40 490.70L213.20 493.40L214.70 490.70L213.20 488.00Z" fill="#111"/>
<text x="226.00" y="494.60" font-family="Liberation Sans" font-size="11" font-weight="bold" text-anchor="middle" fill="#111" >1</text>
<path d="M265.80 381.70L230.13 346.74" stroke="#111" stroke-width="1.1"/>
<path d="M225.70 342.40L232.73 345.51L229.77 346.39L228.95 349.37Z" fill="#111"/>
<text x="213.80" y="338.40" font-family="Liberation Sans" font-size="11" font-weight="bold" text-anchor="middle" fill="#111" >2</text>
<text x="1.50" y="306.90" font-family="Liberation Serif" font-size="20" font-weight="normal" text-anchor="start" fill="#111" >(c)</text>
<text x="202.50" y="543.60" font-family="Liberation Serif" font-size="13" font-weight="bold" text-anchor="middle" fill="#111" >Distance (mm)</text>
<text x="0.00" y="0.00" font-family="Liberation Serif" font-size="13.3" font-weight="bold" text-anchor="middle" fill="#111" transform="translate(13.6 401.3) rotate(-90)">Adhesive force (&#956;N)</text>
<path d="M417.0 283.8H723.0V507.7H417.0Z" fill="none" stroke="#3a3a3a" stroke-width="1.3"/>
<path d="M412.0 489.80H417.0" stroke="#3a3a3a" stroke-width="1.2"/>
<text x="409.20" y="493.20" font-family="Liberation Sans" font-size="11" font-weight="normal" text-anchor="end" fill="#222" >0</text>
<path d="M412.0 453.98H417.0" stroke="#3a3a3a" stroke-width="1.2"/>
<text x="409.20" y="457.38" font-family="Liberation Sans" font-size="11" font-weight="normal" text-anchor="end" fill="#222" >20</text>
<path d="M412.0 418.16H417.0" stroke="#3a3a3a" stroke-width="1.2"/>
<text x="409.20" y="421.56" font-family="Liberation Sans" font-size="11" font-weight="normal" text-anchor="end" fill="#222" >40</text>
<path d="M412.0 382.34H417.0" stroke="#3a3a3a" stroke-width="1.2"/>
<text x="409.20" y="385.74" font-family="Liberation Sans" font-size="11" font-weight="normal" text-anchor="end" fill="#222" >60</text>
<path d="M412.0 346.52H417.0" stroke="#3a3a3a" stroke-width="1.2"/>
<text x="409.20" y="349.92" font-family="Liberation Sans" font-size="11" font-weight="normal" text-anchor="end" fill="#222" >80</text>
<path d="M412.0 310.70H417.0" stroke="#3a3a3a" stroke-width="1.2"/>
<text x="409.20" y="314.10" font-family="Liberation Sans" font-size="11" font-weight="normal" text-anchor="end" fill="#222" >100</text>
<path d="M414.0 507.71H417.0" stroke="#3a3a3a" stroke-width="1.2"/>
<path d="M414.0 471.89H417.0" stroke="#3a3a3a" stroke-width="1.2"/>
<path d="M414.0 436.07H417.0" stroke="#3a3a3a" stroke-width="1.2"/>
<path d="M414.0 400.25H417.0" stroke="#3a3a3a" stroke-width="1.2"/>
<path d="M414.0 364.43H417.0" stroke="#3a3a3a" stroke-width="1.2"/>
<path d="M414.0 328.61H417.0" stroke="#3a3a3a" stroke-width="1.2"/>
<path d="M414.0 292.79H417.0" stroke="#3a3a3a" stroke-width="1.2"/>
<path d="M447.60 507.7V512.7" stroke="#3a3a3a" stroke-width="1.2"/>
<text x="447.60" y="524.00" font-family="Liberation Sans" font-size="11" font-weight="normal" text-anchor="middle" fill="#222" >2</text>
<path d="M508.85 507.7V512.7" stroke="#3a3a3a" stroke-width="1.2"/>
<text x="508.85" y="524.00" font-family="Liberation Sans" font-size="11" font-weight="normal" text-anchor="middle" fill="#222" >4</text>
<path d="M570.10 507.7V512.7" stroke="#3a3a3a" stroke-width="1.2"/>
<text x="570.10" y="524.00" font-family="Liberation Sans" font-size="11" font-weight="normal" text-anchor="middle" fill="#222" >6</text>
<path d="M631.35 507.7V512.7" stroke="#3a3a3a" stroke-width="1.2"/>
<text x="631.35" y="524.00" font-family="Liberation Sans" font-size="11" font-weight="normal" text-anchor="middle" fill="#222" >8</text>
<path d="M692.60 507.7V512.7" stroke="#3a3a3a" stroke-width="1.2"/>
<text x="692.60" y="524.00" font-family="Liberation Sans" font-size="11" font-weight="normal" text-anchor="middle" fill="#222" >10</text>
<path d="M416.98 507.7V510.7" stroke="#3a3a3a" stroke-width="1.2"/>
<path d="M478.23 507.7V510.7" stroke="#3a3a3a" stroke-width="1.2"/>
<path d="M539.48 507.7V510.7" stroke="#3a3a3a" stroke-width="1.2"/>
<path d="M600.73 507.7V510.7" stroke="#3a3a3a" stroke-width="1.2"/>
<path d="M661.98 507.7V510.7" stroke="#3a3a3a" stroke-width="1.2"/>
<path d="M723.23 507.7V510.7" stroke="#3a3a3a" stroke-width="1.2"/>
<path d="M447.60 431.23L508.85 456.67L570.10 464.55L631.35 479.23L692.60 484.96" fill="none" stroke="#303030" stroke-width="1.15"/>
<path d="M447.60 425.14V437.32M445.00 425.14H450.20M445.00 437.32H450.20" stroke="#303030" stroke-width="1.1" fill="none"/>
<rect x="444.91" y="428.55" width="5.38" height="5.38" fill="#000000"/>
<path d="M508.85 451.11V462.22M506.25 451.11H511.45M506.25 462.22H511.45" stroke="#303030" stroke-width="1.1" fill="none"/>
<rect x="506.16" y="453.98" width="5.38" height="5.38" fill="#000000"/>
<path d="M570.10 459.17V469.92M567.50 459.17H572.70M567.50 469.92H572.70" stroke="#303030" stroke-width="1.1" fill="none"/>
<rect x="567.41" y="461.86" width="5.38" height="5.38" fill="#000000"/>
<path d="M631.35 475.83V482.64M628.75 475.83H633.95M628.75 482.64H633.95" stroke="#303030" stroke-width="1.1" fill="none"/>
<rect x="628.66" y="476.55" width="5.38" height="5.38" fill="#000000"/>
<path d="M692.60 483.53V486.40M690.00 483.53H695.20M690.00 486.40H695.20" stroke="#303030" stroke-width="1.1" fill="none"/>
<rect x="689.91" y="482.28" width="5.38" height="5.38" fill="#000000"/>
<path d="M447.60 402.76L508.85 424.79L570.10 446.82L631.35 463.83L692.60 476.73" fill="none" stroke="#ff7050" stroke-width="1.15"/>
<path d="M447.60 396.49V409.03M445.00 396.49H450.20M445.00 409.03H450.20" stroke="#ff7050" stroke-width="1.1" fill="none"/>
<circle cx="447.60" cy="402.76" r="2.94" fill="#ff3c14"/>
<path d="M508.85 419.41V430.16M506.25 419.41H511.45M506.25 430.16H511.45" stroke="#ff7050" stroke-width="1.1" fill="none"/>
<circle cx="508.85" cy="424.79" r="2.94" fill="#ff3c14"/>
<path d="M570.10 438.22V455.41M567.50 438.22H572.70M567.50 455.41H572.70" stroke="#ff7050" stroke-width="1.1" fill="none"/>
<circle cx="570.10" cy="446.82" r="2.94" fill="#ff3c14"/>
<path d="M631.35 456.67V470.99M628.75 456.67H633.95M628.75 470.99H633.95" stroke="#ff7050" stroke-width="1.1" fill="none"/>
<circle cx="631.35" cy="463.83" r="2.94" fill="#ff3c14"/>
<path d="M692.60 473.68V479.77M690.00 473.68H695.20M690.00 479.77H695.20" stroke="#ff7050" stroke-width="1.1" fill="none"/>
<circle cx="692.60" cy="476.73" r="2.94" fill="#ff3c14"/>
<path d="M447.60 316.97L508.85 363.36L570.10 401.32L631.35 425.32L692.60 463.47" fill="none" stroke="#3a6cc8" stroke-width="1.15"/>
<path d="M447.60 308.01V325.92M445.00 308.01H450.20M445.00 325.92H450.20" stroke="#3a6cc8" stroke-width="1.1" fill="none"/>
<path d="M447.60 313.09L451.00 319.55L444.20 319.55Z" fill="#0b47b4"/>
<path d="M508.85 356.37V370.34M506.25 356.37H511.45M506.25 370.34H511.45" stroke="#3a6cc8" stroke-width="1.1" fill="none"/>
<path d="M508.85 359.48L512.25 365.94L505.45 365.94Z" fill="#0b47b4"/>
<path d="M570.10 396.13V406.52M567.50 396.13H572.70M567.50 406.52H572.70" stroke="#3a6cc8" stroke-width="1.1" fill="none"/>
<path d="M570.10 397.45L573.50 403.91L566.70 403.91Z" fill="#0b47b4"/>
<path d="M631.35 418.34V432.31M628.75 418.34H633.95M628.75 432.31H633.95" stroke="#3a6cc8" stroke-width="1.1" fill="none"/>
<path d="M631.35 421.45L634.75 427.91L627.95 427.91Z" fill="#0b47b4"/>
<path d="M692.60 457.38V469.56M690.00 457.38H695.20M690.00 469.56H695.20" stroke="#3a6cc8" stroke-width="1.1" fill="none"/>
<path d="M692.60 459.60L696.00 466.06L689.20 466.06Z" fill="#0b47b4"/>
<path d="M635.3 310.7H660.9" stroke="#303030" stroke-width="1.5"/>
<rect x="645.48" y="308.18" width="5.04" height="5.04" fill="#000000"/>
<text x="667.60" y="314.50" font-family="Liberation Serif" font-size="12" font-weight="bold" text-anchor="start" fill="#111" >S 1</text>
<path d="M635.3 324.1H660.9" stroke="#ff7050" stroke-width="1.5"/>
<circle cx="648.00" cy="324.10" r="2.76" fill="#ff3c14"/>
<text x="667.60" y="327.90" font-family="Liberation Serif" font-size="12" font-weight="bold" text-anchor="start" fill="#111" >S 2</text>
<path d="M635.3 337.7H660.9" stroke="#3a6cc8" stroke-width="1.5"/>
<path d="M648.00 333.82L651.40 340.28L644.60 340.28Z" fill="#0b47b4"/>
<text x="667.60" y="341.50" font-family="Liberation Serif" font-size="12" font-weight="bold" text-anchor="start" fill="#111" >S 3</text>
<text x="370.00" y="306.10" font-family="Liberation Serif" font-size="20" font-weight="normal" text-anchor="start" fill="#111" >(d)</text>
<text x="570.50" y="544.70" font-family="Liberation Serif" font-size="13" font-weight="bold" text-anchor="middle" fill="#111" >Droplet volume (&#956;L)</text>
<text x="0.00" y="0.00" font-family="Liberation Serif" font-size="13.3" font-weight="bold" text-anchor="middle" fill="#111" transform="translate(382.2 401.6) rotate(-90)">Adhesive force (&#956;N)</text>
</svg></body></html>
